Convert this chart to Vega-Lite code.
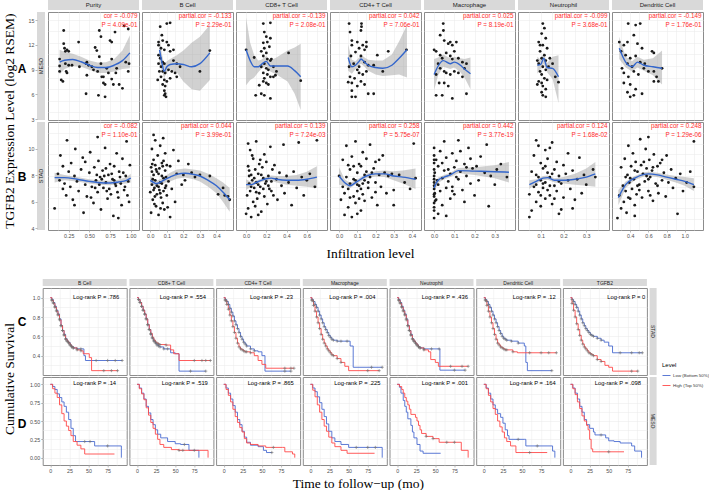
{
"$schema":"https://vega.github.io/schema/vega-lite/v6.json",
"padding":0,
"autosize":{"type":"pad"},
"background":"white",
"spacing":18,
"config":{
 "view":{"stroke":"#8c8c8c","strokeWidth":1},
 "axis":{"domain":false,"gridColor":"#ebebeb","gridWidth":0.55,"tickColor":"#8c8c8c","tickSize":2,"tickWidth":0.6,"tickCount":50,"labelFont":"Liberation Sans","labelFontSize":5.3,"labelColor":"#4d4d4d","labelPadding":1,"labelOverlap":false,"labelFlush":false,"titleFont":"Liberation Serif","titleFontSize":13.5,"titleFontWeight":"normal","titleColor":"#000000"},
 "text":{"font":"Liberation Sans","color":"#1a1a1a"},
 "circle":{"size":8,"color":"#1a1a1a","opacity":1},
 "line":{"strokeWidth":0.9},
 "style":{"ann":{"align":"right","color":"#ff2a2a","fontSize":6.3,"dx":-1.5},"lr":{"fontSize":5.8,"color":"#000000"},"strip":{"fontSize":6,"color":"#1a1a1a"}}
},
"datasets":{
"mP":[{"x":0.19,"y":13.6},{"x":0.14,"y":9.0},{"x":0.16,"y":7.2},{"x":0.14,"y":8.3},{"x":0.19,"y":11.9},{"x":0.2,"y":11.3},{"x":0.21,"y":10.9},{"x":0.23,"y":11.1},{"x":0.25,"y":10.9},{"x":0.22,"y":8.3},{"x":0.23,"y":8.1},{"x":0.18,"y":7.0},{"x":0.21,"y":9.3},{"x":0.25,"y":9.1},{"x":0.29,"y":9.1},{"x":0.37,"y":12.1},{"x":0.38,"y":8.9},{"x":0.46,"y":9.3},{"x":0.47,"y":7.8},{"x":0.46,"y":5.4},{"x":0.49,"y":9.1},{"x":0.53,"y":8.9},{"x":0.55,"y":8.5},{"x":0.57,"y":11.4},{"x":0.59,"y":11.0},{"x":0.6,"y":8.3},{"x":0.61,"y":5.2},{"x":0.62,"y":13.6},{"x":0.64,"y":12.8},{"x":0.62,"y":10.2},{"x":0.64,"y":9.3},{"x":0.65,"y":7.6},{"x":0.67,"y":6.8},{"x":0.69,"y":6.6},{"x":0.69,"y":5.0},{"x":0.71,"y":8.7},{"x":0.73,"y":8.1},{"x":0.75,"y":12.3},{"x":0.77,"y":12.1},{"x":0.77,"y":9.9},{"x":0.77,"y":7.3},{"x":0.79,"y":6.6},{"x":0.81,"y":13.4},{"x":0.82,"y":8.1},{"x":0.83,"y":8.7},{"x":0.86,"y":6.6},{"x":0.9,"y":6.1},{"x":0.92,"y":14.2},{"x":0.94,"y":9.5},{"x":0.97,"y":13.8},{"x":0.97,"y":8.3},{"x":0.98,"y":9.3},{"x":0.14,"y":9.9},{"x":0.67,"y":7.6},{"x":0.47,"y":9.5}],
"fmP":[{"x":0.14,"f":9.5,"lo":7.9,"hi":11.1},{"x":0.2,"f":9.75,"lo":8.6,"hi":10.8},{"x":0.3,"f":9.85,"lo":9.0,"hi":10.6},{"x":0.4,"f":9.55,"lo":8.9,"hi":10.2},{"x":0.5,"f":9.1,"lo":8.5,"hi":9.7},{"x":0.6,"f":8.8,"lo":8.1,"hi":9.45},{"x":0.7,"f":8.8,"lo":8.1,"hi":9.5},{"x":0.8,"f":9.1,"lo":8.3,"hi":9.9},{"x":0.9,"f":9.7,"lo":8.6,"hi":11.0},{"x":0.99,"f":10.7,"lo":8.7,"hi":13.0}],
"mB":[{"x":0.1,"y":14.5},{"x":0.12,"y":14.6},{"x":0.06,"y":14.1},{"x":0.07,"y":13.0},{"x":0.075,"y":12.3},{"x":0.05,"y":12.1},{"x":0.05,"y":11.7},{"x":0.065,"y":11.3},{"x":0.085,"y":11.1},{"x":0.1,"y":12.1},{"x":0.11,"y":11.7},{"x":0.12,"y":10.9},{"x":0.14,"y":11.1},{"x":0.05,"y":10.4},{"x":0.06,"y":10.0},{"x":0.075,"y":9.5},{"x":0.085,"y":9.3},{"x":0.065,"y":8.9},{"x":0.055,"y":8.3},{"x":0.075,"y":8.3},{"x":0.09,"y":8.1},{"x":0.11,"y":8.5},{"x":0.13,"y":8.3},{"x":0.15,"y":8.1},{"x":0.065,"y":7.6},{"x":0.085,"y":7.2},{"x":0.1,"y":7.0},{"x":0.12,"y":7.4},{"x":0.075,"y":6.6},{"x":0.09,"y":6.4},{"x":0.085,"y":5.8},{"x":0.09,"y":5.4},{"x":0.095,"y":5.0},{"x":0.085,"y":5.2},{"x":0.16,"y":9.3},{"x":0.18,"y":8.9},{"x":0.3,"y":8.3},{"x":0.36,"y":11.0},{"x":0.14,"y":9.7},{"x":0.16,"y":7.6},{"x":0.05,"y":9.3},{"x":0.045,"y":7.2}],
"fmB":[{"x":0.056,"f":11.1,"lo":9.3,"hi":12.9},{"x":0.07,"f":9.5,"lo":8.4,"hi":10.6},{"x":0.084,"f":8.3,"lo":7.4,"hi":9.2},{"x":0.1,"f":8.9,"lo":8.2,"hi":9.6},{"x":0.12,"f":9.2,"lo":8.5,"hi":9.9},{"x":0.16,"f":9.3,"lo":8.2,"hi":10.4},{"x":0.2,"f":9.2,"lo":7.0,"hi":11.0},{"x":0.25,"f":8.9,"lo":6.0,"hi":12.0},{"x":0.3,"f":9.3,"lo":5.8,"hi":12.8},{"x":0.36,"f":10.7,"lo":7.2,"hi":14.3}],
"m8":[{"x":0.0,"y":11.1},{"x":0.08,"y":10.1},{"x":0.095,"y":5.2},{"x":0.15,"y":5.4},{"x":0.18,"y":5.2},{"x":0.24,"y":4.8},{"x":0.42,"y":10.7},{"x":0.54,"y":7.1},{"x":0.13,"y":6.5},{"x":0.17,"y":14.5},{"x":0.24,"y":14.6},{"x":0.18,"y":13.4},{"x":0.2,"y":12.8},{"x":0.21,"y":12.1},{"x":0.17,"y":12.0},{"x":0.18,"y":11.3},{"x":0.23,"y":11.5},{"x":0.2,"y":10.7},{"x":0.17,"y":10.3},{"x":0.21,"y":9.9},{"x":0.24,"y":9.7},{"x":0.18,"y":9.3},{"x":0.15,"y":8.9},{"x":0.2,"y":8.7},{"x":0.22,"y":8.5},{"x":0.17,"y":8.1},{"x":0.21,"y":7.9},{"x":0.24,"y":7.6},{"x":0.18,"y":7.4},{"x":0.2,"y":6.8},{"x":0.22,"y":6.6},{"x":0.17,"y":7.0},{"x":0.27,"y":8.9},{"x":0.3,"y":8.3},{"x":0.27,"y":7.6},{"x":0.29,"y":7.8},{"x":0.25,"y":9.9},{"x":0.24,"y":12.6},{"x":0.15,"y":10.9}],
"fm8":[{"x":0.0,"f":11.1,"lo":6.5,"hi":15.3},{"x":0.04,"f":9.7,"lo":7.2,"hi":12.0},{"x":0.08,"f":8.9,"lo":7.5,"hi":10.4},{"x":0.12,"f":8.9,"lo":8.2,"hi":9.7},{"x":0.15,"f":9.2,"lo":8.6,"hi":9.8},{"x":0.2,"f":9.6,"lo":9.0,"hi":10.3},{"x":0.24,"f":9.0,"lo":8.3,"hi":9.7},{"x":0.3,"f":9.0,"lo":7.9,"hi":10.1},{"x":0.41,"f":9.0,"lo":7.0,"hi":11.0},{"x":0.48,"f":8.4,"lo":5.4,"hi":11.4},{"x":0.54,"f":7.6,"lo":3.3,"hi":11.9}],
"m4":[{"x":0.123,"y":14.5},{"x":0.12,"y":13.6},{"x":0.123,"y":14.1},{"x":0.1,"y":12.1},{"x":0.11,"y":11.3},{"x":0.13,"y":11.7},{"x":0.14,"y":11.1},{"x":0.15,"y":12.1},{"x":0.15,"y":11.5},{"x":0.12,"y":10.3},{"x":0.14,"y":9.5},{"x":0.16,"y":9.1},{"x":0.11,"y":8.9},{"x":0.11,"y":8.1},{"x":0.13,"y":7.9},{"x":0.15,"y":8.3},{"x":0.12,"y":7.0},{"x":0.1,"y":6.4},{"x":0.14,"y":6.6},{"x":0.16,"y":5.4},{"x":0.19,"y":5.4},{"x":0.09,"y":5.0},{"x":0.21,"y":10.4},{"x":0.24,"y":8.3},{"x":0.27,"y":10.9},{"x":0.19,"y":9.1},{"x":0.055,"y":14.5},{"x":0.06,"y":13.4},{"x":0.07,"y":12.3},{"x":0.07,"y":11.7},{"x":0.055,"y":8.9},{"x":0.06,"y":7.6},{"x":0.07,"y":6.8},{"x":0.05,"y":6.9},{"x":0.07,"y":5.0},{"x":0.07,"y":5.8},{"x":0.08,"y":9.3},{"x":0.065,"y":10.3},{"x":0.09,"y":10.8},{"x":0.1,"y":8.5},{"x":0.085,"y":7.4},{"x":0.37,"y":11.1}],
"fm4":[{"x":0.05,"f":10.1,"lo":8.4,"hi":11.8},{"x":0.07,"f":8.9,"lo":8.0,"hi":9.8},{"x":0.09,"f":9.1,"lo":8.6,"hi":9.6},{"x":0.11,"f":9.6,"lo":9.1,"hi":10.1},{"x":0.12,"f":9.9,"lo":9.3,"hi":10.5},{"x":0.14,"f":9.5,"lo":8.9,"hi":10.1},{"x":0.16,"f":9.1,"lo":8.4,"hi":9.8},{"x":0.2,"f":8.8,"lo":7.9,"hi":9.7},{"x":0.24,"f":8.7,"lo":7.7,"hi":9.7},{"x":0.29,"f":9.1,"lo":7.8,"hi":10.5},{"x":0.33,"f":10.0,"lo":7.9,"hi":12.2},{"x":0.373,"f":11.1,"lo":7.5,"hi":14.3}],
"mM":[{"x":0.045,"y":14.5},{"x":0.046,"y":13.6},{"x":0.03,"y":13.0},{"x":0.05,"y":12.3},{"x":0.07,"y":11.9},{"x":0.08,"y":12.1},{"x":0.09,"y":11.7},{"x":0.11,"y":12.1},{"x":0.0,"y":11.1},{"x":0.01,"y":10.9},{"x":0.03,"y":10.4},{"x":0.04,"y":10.0},{"x":0.06,"y":10.7},{"x":0.08,"y":10.3},{"x":0.09,"y":9.9},{"x":0.1,"y":10.9},{"x":0.12,"y":10.0},{"x":0.14,"y":9.5},{"x":0.02,"y":9.3},{"x":0.03,"y":8.7},{"x":0.05,"y":8.3},{"x":0.06,"y":8.1},{"x":0.08,"y":7.9},{"x":0.1,"y":8.3},{"x":0.12,"y":8.1},{"x":0.14,"y":7.6},{"x":0.01,"y":7.9},{"x":0.025,"y":6.8},{"x":0.05,"y":6.8},{"x":0.07,"y":6.4},{"x":0.01,"y":5.2},{"x":0.04,"y":5.2},{"x":0.09,"y":4.8},{"x":0.16,"y":5.4},{"x":0.16,"y":9.3},{"x":0.15,"y":8.7}],
"fmM":[{"x":0.0,"f":7.9,"lo":5.9,"hi":9.9},{"x":0.02,"f":9.0,"lo":7.8,"hi":10.1},{"x":0.045,"f":9.7,"lo":8.9,"hi":10.5},{"x":0.08,"f":9.3,"lo":8.6,"hi":10.0},{"x":0.1,"f":9.5,"lo":8.8,"hi":10.2},{"x":0.13,"f":9.1,"lo":8.2,"hi":10.0},{"x":0.15,"f":8.6,"lo":7.5,"hi":9.9},{"x":0.18,"f":8.0,"lo":6.0,"hi":10.1}],
"mN":[{"x":0.109,"y":14.5},{"x":0.116,"y":13.9},{"x":0.104,"y":13.2},{"x":0.122,"y":12.6},{"x":0.091,"y":12.1},{"x":0.109,"y":11.7},{"x":0.128,"y":11.3},{"x":0.097,"y":10.9},{"x":0.116,"y":10.4},{"x":0.104,"y":10.0},{"x":0.091,"y":9.3},{"x":0.109,"y":8.9},{"x":0.122,"y":8.5},{"x":0.097,"y":8.3},{"x":0.104,"y":7.9},{"x":0.116,"y":7.4},{"x":0.091,"y":7.0},{"x":0.128,"y":7.2},{"x":0.085,"y":6.6},{"x":0.109,"y":6.4},{"x":0.122,"y":6.0},{"x":0.104,"y":5.6},{"x":0.109,"y":5.2},{"x":0.122,"y":5.0},{"x":0.14,"y":10.0},{"x":0.152,"y":9.3},{"x":0.164,"y":7.6},{"x":0.178,"y":6.9},{"x":0.085,"y":9.7},{"x":0.134,"y":8.9},{"x":0.097,"y":11.7},{"x":0.122,"y":9.7},{"x":0.104,"y":6.8}],
"fmN":[{"x":0.085,"f":9.1,"lo":8.0,"hi":10.2},{"x":0.1,"f":9.2,"lo":8.6,"hi":9.8},{"x":0.113,"f":10.0,"lo":9.3,"hi":10.7},{"x":0.128,"f":8.8,"lo":8.2,"hi":9.4},{"x":0.152,"f":8.7,"lo":7.3,"hi":10.2},{"x":0.178,"f":7.6,"lo":4.2,"hi":10.4}],
"mD":[{"x":0.378,"y":14.5},{"x":0.46,"y":14.3},{"x":0.51,"y":14.5},{"x":0.28,"y":12.1},{"x":0.33,"y":11.7},{"x":0.37,"y":12.1},{"x":0.44,"y":13.0},{"x":0.48,"y":11.9},{"x":0.53,"y":11.3},{"x":0.64,"y":10.9},{"x":0.66,"y":10.7},{"x":0.3,"y":10.9},{"x":0.35,"y":10.4},{"x":0.4,"y":10.0},{"x":0.46,"y":10.3},{"x":0.51,"y":9.5},{"x":0.56,"y":9.3},{"x":0.37,"y":9.3},{"x":0.42,"y":8.9},{"x":0.31,"y":8.7},{"x":0.33,"y":8.1},{"x":0.38,"y":7.6},{"x":0.44,"y":8.3},{"x":0.49,"y":7.9},{"x":0.55,"y":8.7},{"x":0.6,"y":8.3},{"x":0.66,"y":8.3},{"x":0.69,"y":7.6},{"x":0.71,"y":7.0},{"x":0.33,"y":6.8},{"x":0.4,"y":6.6},{"x":0.46,"y":6.0},{"x":0.37,"y":5.6},{"x":0.44,"y":5.2},{"x":0.53,"y":5.4},{"x":0.4,"y":5.0},{"x":0.66,"y":7.0},{"x":0.75,"y":8.7}],
"fmD":[{"x":0.28,"f":11.3,"lo":9.9,"hi":12.8},{"x":0.35,"f":9.5,"lo":8.8,"hi":10.2},{"x":0.42,"f":8.9,"lo":8.3,"hi":9.6},{"x":0.48,"f":9.5,"lo":8.8,"hi":10.2},{"x":0.55,"f":9.1,"lo":8.4,"hi":9.8},{"x":0.65,"f":8.9,"lo":7.8,"hi":10.0},{"x":0.75,"f":8.7,"lo":6.6,"hi":11.0}],
"sP":[{"x":0.08,"y":5.0},{"x":0.12,"y":8.2},{"x":0.14,"y":7.6},{"x":0.15,"y":9.9},{"x":0.18,"y":8.9},{"x":0.2,"y":7.3},{"x":0.22,"y":6.2},{"x":0.23,"y":11.3},{"x":0.25,"y":8.4},{"x":0.27,"y":7.0},{"x":0.28,"y":9.2},{"x":0.3,"y":5.8},{"x":0.32,"y":8.0},{"x":0.33,"y":10.5},{"x":0.35,"y":7.5},{"x":0.37,"y":6.6},{"x":0.4,"y":8.6},{"x":0.42,"y":9.7},{"x":0.43,"y":4.6},{"x":0.45,"y":7.2},{"x":0.47,"y":6.1},{"x":0.5,"y":8.3},{"x":0.51,"y":10.2},{"x":0.53,"y":7.0},{"x":0.55,"y":5.5},{"x":0.56,"y":8.8},{"x":0.58,"y":7.6},{"x":0.6,"y":6.5},{"x":0.61,"y":9.4},{"x":0.63,"y":7.9},{"x":0.64,"y":4.9},{"x":0.66,"y":8.5},{"x":0.67,"y":6.9},{"x":0.69,"y":10.6},{"x":0.7,"y":7.4},{"x":0.72,"y":5.9},{"x":0.73,"y":8.1},{"x":0.75,"y":9.1},{"x":0.76,"y":6.3},{"x":0.78,"y":7.7},{"x":0.79,"y":4.3},{"x":0.8,"y":8.9},{"x":0.82,"y":7.1},{"x":0.83,"y":10.1},{"x":0.85,"y":6.0},{"x":0.86,"y":8.4},{"x":0.88,"y":7.3},{"x":0.89,"y":5.3},{"x":0.9,"y":9.6},{"x":0.92,"y":6.7},{"x":0.94,"y":8.0},{"x":0.95,"y":11.2},{"x":0.97,"y":7.5},{"x":0.98,"y":5.6},{"x":0.99,"y":9.0},{"x":0.6,"y":11.6},{"x":0.45,"y":9.3},{"x":0.18,"y":6.8},{"x":0.52,"y":6.0},{"x":0.7,"y":8.7},{"x":0.85,"y":4.1},{"x":0.32,"y":5.3},{"x":0.62,"y":7.2},{"x":0.68,"y":8.0},{"x":0.74,"y":6.8},{"x":0.8,"y":7.6},{"x":0.87,"y":7.9},{"x":0.93,"y":7.0},{"x":0.57,"y":6.9},{"x":0.65,"y":7.7},{"x":0.77,"y":8.2},{"x":0.84,"y":6.5},{"x":0.91,"y":8.3},{"x":0.96,"y":6.2},{"x":0.59,"y":8.1},{"x":0.71,"y":6.6},{"x":0.81,"y":7.3}],
"fsP":[{"x":0.08,"f":7.85,"lo":7.4,"hi":8.3},{"x":0.2,"f":7.85,"lo":7.6,"hi":8.1},{"x":0.35,"f":7.7,"lo":7.5,"hi":7.9},{"x":0.5,"f":7.5,"lo":7.3,"hi":7.7},{"x":0.6,"f":7.4,"lo":7.2,"hi":7.6},{"x":0.75,"f":7.35,"lo":7.15,"hi":7.55},{"x":0.85,"f":7.45,"lo":7.25,"hi":7.65},{"x":0.95,"f":7.6,"lo":7.3,"hi":7.9},{"x":1.0,"f":7.8,"lo":7.4,"hi":8.2}],
"sB":[{"x":0.0,"y":6.5},{"x":0.005,"y":8.8},{"x":0.01,"y":7.2},{"x":0.01,"y":10.5},{"x":0.015,"y":5.8},{"x":0.02,"y":8.1},{"x":0.02,"y":9.5},{"x":0.025,"y":6.9},{"x":0.03,"y":11.3},{"x":0.03,"y":7.6},{"x":0.035,"y":5.2},{"x":0.04,"y":8.4},{"x":0.04,"y":6.3},{"x":0.045,"y":9.9},{"x":0.05,"y":7.0},{"x":0.05,"y":4.4},{"x":0.055,"y":8.7},{"x":0.06,"y":7.4},{"x":0.06,"y":10.8},{"x":0.065,"y":6.0},{"x":0.07,"y":8.0},{"x":0.07,"y":9.2},{"x":0.075,"y":5.5},{"x":0.08,"y":7.8},{"x":0.08,"y":6.6},{"x":0.085,"y":4.9},{"x":0.09,"y":8.5},{"x":0.09,"y":10.1},{"x":0.095,"y":7.1},{"x":0.1,"y":6.2},{"x":0.1,"y":9.0},{"x":0.005,"y":4.6},{"x":0.012,"y":9.1},{"x":0.028,"y":6.1},{"x":0.062,"y":5.0},{"x":0.078,"y":11.5},{"x":0.11,"y":7.5},{"x":0.12,"y":8.9},{"x":0.13,"y":6.8},{"x":0.14,"y":10.4},{"x":0.15,"y":5.6},{"x":0.16,"y":8.2},{"x":0.17,"y":9.4},{"x":0.19,"y":7.2},{"x":0.2,"y":8.1},{"x":0.21,"y":7.6},{"x":0.23,"y":9.1},{"x":0.25,"y":8.3},{"x":0.27,"y":7.9},{"x":0.3,"y":8.1},{"x":0.36,"y":8.0},{"x":0.41,"y":6.3},{"x":0.44,"y":6.9},{"x":0.45,"y":6.2},{"x":0.47,"y":6.1},{"x":0.48,"y":5.8},{"x":0.12,"y":4.2},{"x":0.105,"y":5.1},{"x":0.02,"y":11.8},{"x":0.01,"y":8.4},{"x":0.02,"y":6.7},{"x":0.03,"y":9.0},{"x":0.04,"y":7.1},{"x":0.05,"y":8.2},{"x":0.06,"y":6.4},{"x":0.07,"y":7.3},{"x":0.08,"y":9.4},{"x":0.09,"y":6.9},{"x":0.015,"y":7.7},{"x":0.035,"y":8.6},{"x":0.055,"y":6.7},{"x":0.075,"y":8.9},{"x":0.095,"y":7.9},{"x":0.025,"y":5.4}],
"fsB":[{"x":0.0,"f":7.6,"lo":7.2,"hi":8.0},{"x":0.04,"f":7.3,"lo":7.1,"hi":7.55},{"x":0.08,"f":7.6,"lo":7.35,"hi":7.85},{"x":0.12,"f":7.9,"lo":7.5,"hi":8.3},{"x":0.16,"f":8.15,"lo":7.75,"hi":8.6},{"x":0.21,"f":8.25,"lo":7.85,"hi":8.7},{"x":0.26,"f":8.15,"lo":7.7,"hi":8.6},{"x":0.3,"f":8.0,"lo":7.5,"hi":8.5},{"x":0.35,"f":7.6,"lo":7.0,"hi":8.2},{"x":0.4,"f":7.1,"lo":6.4,"hi":7.8},{"x":0.44,"f":6.5,"lo":5.6,"hi":7.4},{"x":0.48,"f":5.8,"lo":4.7,"hi":6.9}],
"s8":[{"x":0.0,"y":4.5},{"x":0.01,"y":6.2},{"x":0.02,"y":8.9},{"x":0.02,"y":5.0},{"x":0.03,"y":7.3},{"x":0.04,"y":10.4},{"x":0.04,"y":6.6},{"x":0.05,"y":8.1},{"x":0.05,"y":4.2},{"x":0.06,"y":7.6},{"x":0.07,"y":9.6},{"x":0.07,"y":5.6},{"x":0.08,"y":6.9},{"x":0.09,"y":8.6},{"x":0.1,"y":7.4},{"x":0.1,"y":11.2},{"x":0.11,"y":5.9},{"x":0.12,"y":8.2},{"x":0.13,"y":6.4},{"x":0.13,"y":9.1},{"x":0.14,"y":7.0},{"x":0.15,"y":4.7},{"x":0.16,"y":8.8},{"x":0.17,"y":7.8},{"x":0.18,"y":10.0},{"x":0.18,"y":6.1},{"x":0.19,"y":7.3},{"x":0.2,"y":9.3},{"x":0.21,"y":5.4},{"x":0.22,"y":8.0},{"x":0.23,"y":6.8},{"x":0.24,"y":10.7},{"x":0.25,"y":7.5},{"x":0.26,"y":8.6},{"x":0.27,"y":6.2},{"x":0.28,"y":9.0},{"x":0.3,"y":7.7},{"x":0.31,"y":5.8},{"x":0.33,"y":8.3},{"x":0.35,"y":7.1},{"x":0.37,"y":10.9},{"x":0.38,"y":6.4},{"x":0.4,"y":8.0},{"x":0.42,"y":7.4},{"x":0.45,"y":5.3},{"x":0.47,"y":8.4},{"x":0.5,"y":6.9},{"x":0.52,"y":11.1},{"x":0.55,"y":7.9},{"x":0.57,"y":6.2},{"x":0.6,"y":7.6},{"x":0.63,"y":8.2},{"x":0.68,"y":7.0},{"x":0.7,"y":11.3},{"x":0.02,"y":11.0},{"x":0.12,"y":4.4},{"x":0.06,"y":9.9},{"x":0.03,"y":8.0},{"x":0.05,"y":7.0},{"x":0.08,"y":7.8},{"x":0.1,"y":6.5},{"x":0.12,"y":7.2},{"x":0.15,"y":8.1},{"x":0.17,"y":6.8},{"x":0.2,"y":7.5},{"x":0.22,"y":7.1},{"x":0.25,"y":6.6},{"x":0.14,"y":9.5},{"x":0.03,"y":8.5},{"x":0.09,"y":5.2}],
"fs8":[{"x":0.0,"f":7.2,"lo":6.7,"hi":7.7},{"x":0.05,"f":7.2,"lo":7.0,"hi":7.45},{"x":0.1,"f":7.4,"lo":7.25,"hi":7.6},{"x":0.15,"f":7.6,"lo":7.45,"hi":7.75},{"x":0.2,"f":7.75,"lo":7.55,"hi":7.95},{"x":0.25,"f":7.8,"lo":7.55,"hi":8.05},{"x":0.3,"f":7.7,"lo":7.4,"hi":8.0},{"x":0.4,"f":7.6,"lo":7.2,"hi":8.0},{"x":0.5,"f":7.6,"lo":7.1,"hi":8.1},{"x":0.6,"f":7.7,"lo":7.0,"hi":8.4},{"x":0.7,"f":7.9,"lo":6.9,"hi":8.9}],
"s4":[{"x":0.0,"y":8.0},{"x":0.01,"y":5.8},{"x":0.02,"y":9.5},{"x":0.03,"y":6.4},{"x":0.03,"y":4.4},{"x":0.04,"y":7.9},{"x":0.04,"y":10.8},{"x":0.05,"y":6.8},{"x":0.05,"y":5.1},{"x":0.06,"y":8.6},{"x":0.06,"y":7.3},{"x":0.07,"y":4.2},{"x":0.07,"y":9.8},{"x":0.08,"y":6.1},{"x":0.08,"y":7.7},{"x":0.09,"y":11.2},{"x":0.09,"y":5.5},{"x":0.1,"y":8.3},{"x":0.1,"y":6.6},{"x":0.11,"y":9.1},{"x":0.11,"y":7.1},{"x":0.12,"y":4.8},{"x":0.12,"y":8.9},{"x":0.13,"y":6.3},{"x":0.13,"y":10.2},{"x":0.14,"y":7.6},{"x":0.14,"y":5.7},{"x":0.15,"y":8.4},{"x":0.15,"y":9.6},{"x":0.16,"y":6.9},{"x":0.17,"y":7.9},{"x":0.17,"y":10.9},{"x":0.18,"y":6.0},{"x":0.19,"y":8.7},{"x":0.2,"y":7.4},{"x":0.2,"y":9.3},{"x":0.21,"y":5.3},{"x":0.22,"y":8.1},{"x":0.23,"y":7.0},{"x":0.24,"y":9.9},{"x":0.25,"y":8.3},{"x":0.26,"y":6.4},{"x":0.27,"y":8.0},{"x":0.29,"y":8.2},{"x":0.3,"y":6.7},{"x":0.3,"y":5.3},{"x":0.33,"y":8.1},{"x":0.36,"y":7.4},{"x":0.41,"y":11.0},{"x":0.42,"y":7.8},{"x":0.39,"y":6.8},{"x":0.02,"y":7.0},{"x":0.05,"y":9.0},{"x":0.1,"y":4.5},{"x":0.06,"y":6.0},{"x":0.08,"y":8.9},{"x":0.1,"y":7.2},{"x":0.12,"y":6.8},{"x":0.14,"y":8.1},{"x":0.16,"y":7.4},{"x":0.18,"y":8.3},{"x":0.2,"y":6.5},{"x":0.22,"y":9.5},{"x":0.13,"y":7.3},{"x":0.11,"y":5.9},{"x":0.09,"y":7.6}],
"fs4":[{"x":0.0,"f":8.0,"lo":7.2,"hi":8.8},{"x":0.03,"f":7.4,"lo":7.1,"hi":7.7},{"x":0.06,"f":7.1,"lo":6.9,"hi":7.35},{"x":0.1,"f":7.5,"lo":7.3,"hi":7.7},{"x":0.15,"f":8.0,"lo":7.8,"hi":8.2},{"x":0.2,"f":8.2,"lo":7.95,"hi":8.45},{"x":0.25,"f":8.2,"lo":7.9,"hi":8.5},{"x":0.3,"f":8.0,"lo":7.6,"hi":8.45},{"x":0.35,"f":7.9,"lo":7.3,"hi":8.5},{"x":0.42,"f":7.7,"lo":6.8,"hi":8.7}],
"sM":[{"x":0.0,"y":4.1},{"x":0.0,"y":4.8},{"x":0.0,"y":5.5},{"x":0.0,"y":6.1},{"x":0.0,"y":6.8},{"x":0.0,"y":7.4},{"x":0.0,"y":8.0},{"x":0.0,"y":8.6},{"x":0.0,"y":9.2},{"x":0.0,"y":9.9},{"x":0.0,"y":10.6},{"x":0.0,"y":5.1},{"x":0.0,"y":7.1},{"x":0.003,"y":6.4},{"x":0.003,"y":8.3},{"x":0.01,"y":5.8},{"x":0.01,"y":9.5},{"x":0.015,"y":7.6},{"x":0.02,"y":4.5},{"x":0.02,"y":8.9},{"x":0.03,"y":6.6},{"x":0.03,"y":10.3},{"x":0.04,"y":7.8},{"x":0.04,"y":5.3},{"x":0.05,"y":8.5},{"x":0.05,"y":11.2},{"x":0.06,"y":6.9},{"x":0.06,"y":9.7},{"x":0.07,"y":7.5},{"x":0.08,"y":8.2},{"x":0.08,"y":5.9},{"x":0.09,"y":10.1},{"x":0.09,"y":7.0},{"x":0.1,"y":8.8},{"x":0.1,"y":6.3},{"x":0.11,"y":9.4},{"x":0.12,"y":7.7},{"x":0.12,"y":11.3},{"x":0.13,"y":8.4},{"x":0.14,"y":6.7},{"x":0.15,"y":9.1},{"x":0.15,"y":5.6},{"x":0.16,"y":8.0},{"x":0.17,"y":10.6},{"x":0.18,"y":7.3},{"x":0.19,"y":8.7},{"x":0.2,"y":6.2},{"x":0.21,"y":8.9},{"x":0.22,"y":7.6},{"x":0.23,"y":9.8},{"x":0.25,"y":8.3},{"x":0.26,"y":10.9},{"x":0.28,"y":8.0},{"x":0.3,"y":7.2},{"x":0.31,"y":8.6},{"x":0.33,"y":9.1},{"x":0.36,"y":7.9},{"x":0.27,"y":5.2},{"x":0.06,"y":4.3},{"x":0.0,"y":6.3},{"x":0.0,"y":7.7},{"x":0.0,"y":9.5},{"x":0.005,"y":5.7},{"x":0.02,"y":7.2},{"x":0.04,"y":9.2},{"x":0.07,"y":8.6},{"x":0.09,"y":6.6},{"x":0.11,"y":7.9},{"x":0.13,"y":10.3},{"x":0.16,"y":8.8},{"x":0.18,"y":9.6}],
"fsM":[{"x":0.0,"f":6.9,"lo":6.5,"hi":7.3},{"x":0.02,"f":7.6,"lo":7.35,"hi":7.85},{"x":0.05,"f":7.9,"lo":7.7,"hi":8.1},{"x":0.08,"f":8.1,"lo":7.9,"hi":8.3},{"x":0.12,"f":8.5,"lo":8.25,"hi":8.75},{"x":0.2,"f":8.45,"lo":8.1,"hi":8.8},{"x":0.3,"f":8.4,"lo":7.8,"hi":9.0},{"x":0.37,"f":8.35,"lo":7.4,"hi":9.3}],
"sN":[{"x":0.05,"y":4.2},{"x":0.05,"y":6.3},{"x":0.06,"y":8.4},{"x":0.06,"y":4.8},{"x":0.07,"y":9.9},{"x":0.07,"y":7.0},{"x":0.08,"y":5.6},{"x":0.08,"y":8.1},{"x":0.09,"y":10.8},{"x":0.09,"y":6.5},{"x":0.1,"y":7.6},{"x":0.1,"y":9.2},{"x":0.1,"y":5.2},{"x":0.11,"y":8.7},{"x":0.11,"y":6.9},{"x":0.12,"y":10.4},{"x":0.12,"y":7.4},{"x":0.12,"y":5.9},{"x":0.13,"y":8.3},{"x":0.13,"y":9.6},{"x":0.14,"y":6.2},{"x":0.14,"y":7.9},{"x":0.15,"y":11.1},{"x":0.15,"y":5.4},{"x":0.16,"y":8.6},{"x":0.16,"y":7.1},{"x":0.17,"y":9.3},{"x":0.17,"y":6.6},{"x":0.18,"y":8.0},{"x":0.18,"y":4.5},{"x":0.19,"y":7.3},{"x":0.2,"y":9.0},{"x":0.2,"y":6.0},{"x":0.21,"y":8.2},{"x":0.22,"y":7.6},{"x":0.22,"y":10.1},{"x":0.23,"y":6.8},{"x":0.24,"y":8.5},{"x":0.25,"y":5.8},{"x":0.26,"y":7.7},{"x":0.27,"y":9.7},{"x":0.28,"y":6.4},{"x":0.29,"y":8.1},{"x":0.3,"y":7.2},{"x":0.33,"y":8.6},{"x":0.34,"y":7.9},{"x":0.19,"y":4.9},{"x":0.08,"y":11.3},{"x":0.14,"y":10.6},{"x":0.24,"y":5.0},{"x":0.09,"y":7.9},{"x":0.11,"y":7.3},{"x":0.13,"y":6.7},{"x":0.15,"y":8.2},{"x":0.1,"y":6.2},{"x":0.12,"y":8.9},{"x":0.14,"y":7.1},{"x":0.16,"y":5.9},{"x":0.08,"y":7.2},{"x":0.18,"y":7.5}],
"fsN":[{"x":0.05,"f":7.2,"lo":6.8,"hi":7.6},{"x":0.08,"f":7.5,"lo":7.3,"hi":7.7},{"x":0.11,"f":7.8,"lo":7.6,"hi":8.0},{"x":0.13,"f":7.85,"lo":7.65,"hi":8.05},{"x":0.16,"f":7.6,"lo":7.4,"hi":7.8},{"x":0.2,"f":7.6,"lo":7.3,"hi":7.9},{"x":0.25,"f":7.7,"lo":7.2,"hi":8.2},{"x":0.3,"f":7.9,"lo":7.1,"hi":8.7},{"x":0.34,"f":8.2,"lo":7.0,"hi":9.3}],
"sD":[{"x":0.26,"y":4.1},{"x":0.28,"y":6.2},{"x":0.3,"y":5.0},{"x":0.3,"y":8.8},{"x":0.32,"y":7.1},{"x":0.33,"y":5.6},{"x":0.34,"y":9.6},{"x":0.35,"y":6.6},{"x":0.36,"y":4.6},{"x":0.37,"y":8.1},{"x":0.38,"y":10.8},{"x":0.39,"y":7.4},{"x":0.4,"y":5.9},{"x":0.41,"y":8.9},{"x":0.42,"y":6.8},{"x":0.43,"y":10.1},{"x":0.44,"y":7.7},{"x":0.45,"y":5.3},{"x":0.46,"y":9.3},{"x":0.47,"y":6.3},{"x":0.48,"y":8.4},{"x":0.5,"y":7.2},{"x":0.51,"y":11.4},{"x":0.52,"y":9.0},{"x":0.53,"y":6.0},{"x":0.54,"y":8.2},{"x":0.56,"y":7.5},{"x":0.57,"y":10.5},{"x":0.58,"y":8.7},{"x":0.6,"y":6.6},{"x":0.61,"y":9.5},{"x":0.62,"y":7.9},{"x":0.64,"y":8.5},{"x":0.65,"y":5.7},{"x":0.66,"y":10.0},{"x":0.68,"y":7.3},{"x":0.7,"y":8.9},{"x":0.71,"y":6.4},{"x":0.73,"y":9.2},{"x":0.75,"y":7.6},{"x":0.77,"y":8.3},{"x":0.79,"y":6.1},{"x":0.8,"y":9.9},{"x":0.82,"y":7.4},{"x":0.85,"y":8.6},{"x":0.87,"y":6.9},{"x":0.9,"y":7.8},{"x":0.92,"y":4.5},{"x":0.95,"y":8.2},{"x":0.98,"y":6.6},{"x":1.02,"y":7.4},{"x":1.06,"y":8.4},{"x":1.1,"y":7.0},{"x":1.1,"y":11.2},{"x":0.6,"y":11.6},{"x":0.45,"y":4.3},{"x":0.38,"y":6.0},{"x":0.4,"y":7.8},{"x":0.45,"y":8.5},{"x":0.5,"y":6.7},{"x":0.55,"y":9.3},{"x":0.6,"y":7.7},{"x":0.65,"y":8.8},{"x":0.7,"y":7.1},{"x":0.48,"y":7.1},{"x":0.58,"y":8.0},{"x":0.62,"y":6.2},{"x":0.35,"y":7.9},{"x":0.75,"y":9.5}],
"fsD":[{"x":0.27,"f":6.0,"lo":5.3,"hi":6.7},{"x":0.35,"f":7.2,"lo":6.9,"hi":7.5},{"x":0.45,"f":7.8,"lo":7.6,"hi":8.0},{"x":0.55,"f":8.15,"lo":7.95,"hi":8.35},{"x":0.6,"f":8.2,"lo":8.0,"hi":8.4},{"x":0.7,"f":8.1,"lo":7.9,"hi":8.3},{"x":0.8,"f":7.9,"lo":7.65,"hi":8.15},{"x":0.9,"f":7.7,"lo":7.4,"hi":8.0},{"x":1.0,"f":7.5,"lo":7.1,"hi":7.9},{"x":1.1,"f":7.2,"lo":6.6,"hi":7.8}],
"kCB":[{"g":"Low","t":0,"s":1},{"g":"Low","t":2,"s":0.98,"c":1},{"g":"Low","t":4,"s":0.95,"c":1},{"g":"Low","t":6,"s":0.91,"c":1},{"g":"Low","t":8,"s":0.87,"c":1},{"g":"Low","t":10,"s":0.83,"c":1},{"g":"Low","t":12,"s":0.78,"c":1},{"g":"Low","t":14,"s":0.71,"c":1},{"g":"Low","t":16,"s":0.66,"c":1},{"g":"Low","t":18,"s":0.62,"c":1},{"g":"Low","t":20,"s":0.575,"c":1},{"g":"Low","t":22,"s":0.55,"c":1},{"g":"Low","t":24,"s":0.535,"c":1},{"g":"Low","t":26,"s":0.51,"c":1},{"g":"Low","t":28,"s":0.495,"c":1},{"g":"Low","t":30,"s":0.48,"c":1},{"g":"Low","t":35,"s":0.47,"c":1},{"g":"Low","t":40,"s":0.47,"c":1},{"g":"Low","t":44,"s":0.4},{"g":"Low","t":46,"s":0.35},{"g":"Low","t":60,"s":0.35,"c":1},{"g":"Low","t":75,"s":0.35,"c":1},{"g":"Low","t":85,"s":0.35,"c":1},{"g":"Low","t":94,"s":0.35,"c":1},
{"g":"High","t":0,"s":1},{"g":"High","t":2,"s":0.97,"c":1},{"g":"High","t":4,"s":0.94,"c":1},{"g":"High","t":6,"s":0.9,"c":1},{"g":"High","t":8,"s":0.86,"c":1},{"g":"High","t":10,"s":0.82,"c":1},{"g":"High","t":12,"s":0.77,"c":1},{"g":"High","t":14,"s":0.71,"c":1},{"g":"High","t":16,"s":0.66,"c":1},{"g":"High","t":18,"s":0.61,"c":1},{"g":"High","t":20,"s":0.57,"c":1},{"g":"High","t":22,"s":0.55,"c":1},{"g":"High","t":24,"s":0.53,"c":1},{"g":"High","t":26,"s":0.51,"c":1},{"g":"High","t":28,"s":0.49,"c":1},{"g":"High","t":30,"s":0.48,"c":1},{"g":"High","t":35,"s":0.46,"c":1},{"g":"High","t":40,"s":0.45,"c":1},{"g":"High","t":43,"s":0.42},{"g":"High","t":51,"s":0.38},{"g":"High","t":54,"s":0.245},{"g":"High","t":70,"s":0.245,"c":1},{"g":"High","t":80,"s":0.245,"c":1},{"g":"High","t":88,"s":0.245,"c":1}],
"kC8":[{"g":"Low","t":0,"s":1},{"g":"Low","t":2,"s":0.98,"c":1},{"g":"Low","t":4,"s":0.95,"c":1},{"g":"Low","t":6,"s":0.91,"c":1},{"g":"Low","t":8,"s":0.87,"c":1},{"g":"Low","t":10,"s":0.83,"c":1},{"g":"Low","t":12,"s":0.78,"c":1},{"g":"Low","t":14,"s":0.72,"c":1},{"g":"Low","t":16,"s":0.67,"c":1},{"g":"Low","t":18,"s":0.62,"c":1},{"g":"Low","t":20,"s":0.58,"c":1},{"g":"Low","t":22,"s":0.55,"c":1},{"g":"Low","t":24,"s":0.53,"c":1},{"g":"Low","t":26,"s":0.51,"c":1},{"g":"Low","t":28,"s":0.5,"c":1},{"g":"Low","t":30,"s":0.49,"c":1},{"g":"Low","t":35,"s":0.47,"c":1},{"g":"Low","t":40,"s":0.47,"c":1},{"g":"Low","t":44,"s":0.43},{"g":"Low","t":50,"s":0.42},{"g":"Low","t":55,"s":0.24},{"g":"Low","t":70,"s":0.24,"c":1},{"g":"Low","t":90,"s":0.24,"c":1},
{"g":"High","t":0,"s":1},{"g":"High","t":2,"s":0.98,"c":1},{"g":"High","t":4,"s":0.95,"c":1},{"g":"High","t":6,"s":0.91,"c":1},{"g":"High","t":8,"s":0.87,"c":1},{"g":"High","t":10,"s":0.83,"c":1},{"g":"High","t":12,"s":0.78,"c":1},{"g":"High","t":14,"s":0.72,"c":1},{"g":"High","t":16,"s":0.67,"c":1},{"g":"High","t":18,"s":0.63,"c":1},{"g":"High","t":20,"s":0.59,"c":1},{"g":"High","t":22,"s":0.56,"c":1},{"g":"High","t":24,"s":0.54,"c":1},{"g":"High","t":26,"s":0.53,"c":1},{"g":"High","t":28,"s":0.52,"c":1},{"g":"High","t":30,"s":0.515,"c":1},{"g":"High","t":38,"s":0.51,"c":1},{"g":"High","t":44,"s":0.46},{"g":"High","t":48,"s":0.42},{"g":"High","t":55,"s":0.35},{"g":"High","t":75,"s":0.35,"c":1},{"g":"High","t":85,"s":0.35,"c":1},{"g":"High","t":90,"s":0.35,"c":1},{"g":"High","t":96,"s":0.35,"c":1}],
"kC4":[{"g":"Low","t":0,"s":1},{"g":"Low","t":2,"s":0.98,"c":1},{"g":"Low","t":4,"s":0.96,"c":1},{"g":"Low","t":6,"s":0.93,"c":1},{"g":"Low","t":8,"s":0.89,"c":1},{"g":"Low","t":10,"s":0.85,"c":1},{"g":"Low","t":12,"s":0.81,"c":1},{"g":"Low","t":14,"s":0.76,"c":1},{"g":"Low","t":16,"s":0.72,"c":1},{"g":"Low","t":18,"s":0.68,"c":1},{"g":"Low","t":20,"s":0.64,"c":1},{"g":"Low","t":22,"s":0.6,"c":1},{"g":"Low","t":24,"s":0.57,"c":1},{"g":"Low","t":26,"s":0.54,"c":1},{"g":"Low","t":28,"s":0.52,"c":1},{"g":"Low","t":30,"s":0.5,"c":1},{"g":"Low","t":35,"s":0.47,"c":1},{"g":"Low","t":40,"s":0.45,"c":1},{"g":"Low","t":45,"s":0.44},{"g":"Low","t":50,"s":0.4},{"g":"Low","t":54,"s":0.24},{"g":"Low","t":80,"s":0.24,"c":1},{"g":"Low","t":88,"s":0.24,"c":1},
{"g":"High","t":0,"s":1},{"g":"High","t":2,"s":0.97,"c":1},{"g":"High","t":4,"s":0.93,"c":1},{"g":"High","t":6,"s":0.88,"c":1},{"g":"High","t":8,"s":0.82,"c":1},{"g":"High","t":10,"s":0.76,"c":1},{"g":"High","t":12,"s":0.7,"c":1},{"g":"High","t":14,"s":0.64,"c":1},{"g":"High","t":16,"s":0.58,"c":1},{"g":"High","t":18,"s":0.53,"c":1},{"g":"High","t":20,"s":0.49,"c":1},{"g":"High","t":22,"s":0.47,"c":1},{"g":"High","t":24,"s":0.46,"c":1},{"g":"High","t":26,"s":0.45,"c":1},{"g":"High","t":28,"s":0.44,"c":1},{"g":"High","t":30,"s":0.44,"c":1},{"g":"High","t":35,"s":0.43,"c":1},{"g":"High","t":40,"s":0.4},{"g":"High","t":45,"s":0.35},{"g":"High","t":50,"s":0.31},{"g":"High","t":55,"s":0.27},{"g":"High","t":80,"s":0.27,"c":1},{"g":"High","t":88,"s":0.27,"c":1},{"g":"High","t":92,"s":0.27,"c":1}],
"kCM":[{"g":"Low","t":0,"s":1},{"g":"Low","t":2,"s":0.98,"c":1},{"g":"Low","t":4,"s":0.96,"c":1},{"g":"Low","t":6,"s":0.93,"c":1},{"g":"Low","t":8,"s":0.9,"c":1},{"g":"Low","t":10,"s":0.86,"c":1},{"g":"Low","t":12,"s":0.82,"c":1},{"g":"Low","t":14,"s":0.78,"c":1},{"g":"Low","t":16,"s":0.74,"c":1},{"g":"Low","t":18,"s":0.7,"c":1},{"g":"Low","t":20,"s":0.67,"c":1},{"g":"Low","t":22,"s":0.64,"c":1},{"g":"Low","t":24,"s":0.61,"c":1},{"g":"Low","t":26,"s":0.59,"c":1},{"g":"Low","t":28,"s":0.57,"c":1},{"g":"Low","t":30,"s":0.56,"c":1},{"g":"Low","t":35,"s":0.55,"c":1},{"g":"Low","t":40,"s":0.55,"c":1},{"g":"Low","t":48,"s":0.55,"c":1},{"g":"Low","t":52,"s":0.5},{"g":"Low","t":56,"s":0.28},{"g":"Low","t":80,"s":0.28,"c":1},{"g":"Low","t":94,"s":0.28,"c":1},
{"g":"High","t":0,"s":1},{"g":"High","t":2,"s":0.97,"c":1},{"g":"High","t":4,"s":0.92,"c":1},{"g":"High","t":6,"s":0.86,"c":1},{"g":"High","t":8,"s":0.8,"c":1},{"g":"High","t":10,"s":0.74,"c":1},{"g":"High","t":12,"s":0.68,"c":1},{"g":"High","t":14,"s":0.62,"c":1},{"g":"High","t":16,"s":0.57,"c":1},{"g":"High","t":18,"s":0.53,"c":1},{"g":"High","t":20,"s":0.5,"c":1},{"g":"High","t":22,"s":0.47,"c":1},{"g":"High","t":24,"s":0.45,"c":1},{"g":"High","t":26,"s":0.43,"c":1},{"g":"High","t":28,"s":0.41,"c":1},{"g":"High","t":30,"s":0.4,"c":1},{"g":"High","t":35,"s":0.37,"c":1},{"g":"High","t":40,"s":0.33,"c":1},{"g":"High","t":45,"s":0.29},{"g":"High","t":50,"s":0.245},{"g":"High","t":75,"s":0.245,"c":1},{"g":"High","t":90,"s":0.245,"c":1}],
"kCN":[{"g":"Low","t":0,"s":1},{"g":"Low","t":2,"s":0.98,"c":1},{"g":"Low","t":4,"s":0.95,"c":1},{"g":"Low","t":6,"s":0.91,"c":1},{"g":"Low","t":8,"s":0.87,"c":1},{"g":"Low","t":10,"s":0.83,"c":1},{"g":"Low","t":12,"s":0.78,"c":1},{"g":"Low","t":14,"s":0.71,"c":1},{"g":"Low","t":16,"s":0.66,"c":1},{"g":"Low","t":18,"s":0.62,"c":1},{"g":"Low","t":20,"s":0.575,"c":1},{"g":"Low","t":22,"s":0.55,"c":1},{"g":"Low","t":24,"s":0.53,"c":1},{"g":"Low","t":26,"s":0.51,"c":1},{"g":"Low","t":28,"s":0.495,"c":1},{"g":"Low","t":30,"s":0.48,"c":1},{"g":"Low","t":35,"s":0.47,"c":1},{"g":"Low","t":45,"s":0.47,"c":1},{"g":"Low","t":55,"s":0.47,"c":1},{"g":"Low","t":56,"s":0.25},{"g":"Low","t":75,"s":0.25,"c":1},{"g":"Low","t":89,"s":0.25,"c":1},
{"g":"High","t":0,"s":1},{"g":"High","t":2,"s":0.97,"c":1},{"g":"High","t":4,"s":0.94,"c":1},{"g":"High","t":6,"s":0.9,"c":1},{"g":"High","t":8,"s":0.86,"c":1},{"g":"High","t":10,"s":0.82,"c":1},{"g":"High","t":12,"s":0.77,"c":1},{"g":"High","t":14,"s":0.71,"c":1},{"g":"High","t":16,"s":0.66,"c":1},{"g":"High","t":18,"s":0.61,"c":1},{"g":"High","t":20,"s":0.57,"c":1},{"g":"High","t":22,"s":0.55,"c":1},{"g":"High","t":24,"s":0.53,"c":1},{"g":"High","t":26,"s":0.51,"c":1},{"g":"High","t":28,"s":0.49,"c":1},{"g":"High","t":30,"s":0.48,"c":1},{"g":"High","t":35,"s":0.46,"c":1},{"g":"High","t":41,"s":0.44},{"g":"High","t":44,"s":0.36},{"g":"High","t":50,"s":0.33},{"g":"High","t":54,"s":0.29},{"g":"High","t":70,"s":0.29,"c":1},{"g":"High","t":85,"s":0.29,"c":1},{"g":"High","t":93,"s":0.29,"c":1}],
"kCD":[{"g":"Low","t":0,"s":1},{"g":"Low","t":2,"s":0.98,"c":1},{"g":"Low","t":4,"s":0.96,"c":1},{"g":"Low","t":6,"s":0.93,"c":1},{"g":"Low","t":8,"s":0.9,"c":1},{"g":"Low","t":10,"s":0.86,"c":1},{"g":"Low","t":12,"s":0.82,"c":1},{"g":"Low","t":14,"s":0.78,"c":1},{"g":"Low","t":16,"s":0.74,"c":1},{"g":"Low","t":18,"s":0.7,"c":1},{"g":"Low","t":20,"s":0.66,"c":1},{"g":"Low","t":22,"s":0.63,"c":1},{"g":"Low","t":24,"s":0.6,"c":1},{"g":"Low","t":26,"s":0.58,"c":1},{"g":"Low","t":28,"s":0.57,"c":1},{"g":"Low","t":30,"s":0.56,"c":1},{"g":"Low","t":36,"s":0.55,"c":1},{"g":"Low","t":45,"s":0.53,"c":1},{"g":"Low","t":53,"s":0.5},{"g":"Low","t":55,"s":0.33},{"g":"Low","t":57,"s":0.245},{"g":"Low","t":89,"s":0.245,"c":1},
{"g":"High","t":0,"s":1},{"g":"High","t":2,"s":0.97,"c":1},{"g":"High","t":4,"s":0.92,"c":1},{"g":"High","t":6,"s":0.86,"c":1},{"g":"High","t":8,"s":0.8,"c":1},{"g":"High","t":10,"s":0.74,"c":1},{"g":"High","t":12,"s":0.68,"c":1},{"g":"High","t":14,"s":0.62,"c":1},{"g":"High","t":16,"s":0.57,"c":1},{"g":"High","t":18,"s":0.53,"c":1},{"g":"High","t":20,"s":0.51,"c":1},{"g":"High","t":22,"s":0.49,"c":1},{"g":"High","t":24,"s":0.48,"c":1},{"g":"High","t":26,"s":0.47,"c":1},{"g":"High","t":28,"s":0.46,"c":1},{"g":"High","t":30,"s":0.46,"c":1},{"g":"High","t":38,"s":0.44,"c":1},{"g":"High","t":44,"s":0.43},{"g":"High","t":60,"s":0.43,"c":1},{"g":"High","t":75,"s":0.43,"c":1},{"g":"High","t":85,"s":0.43,"c":1},{"g":"High","t":95,"s":0.43,"c":1}],
"kCT":[{"g":"Low","t":0,"s":1},{"g":"Low","t":2,"s":0.98,"c":1},{"g":"Low","t":4,"s":0.96,"c":1},{"g":"Low","t":6,"s":0.93,"c":1},{"g":"Low","t":8,"s":0.9,"c":1},{"g":"Low","t":10,"s":0.86,"c":1},{"g":"Low","t":12,"s":0.82,"c":1},{"g":"Low","t":14,"s":0.78,"c":1},{"g":"Low","t":16,"s":0.74,"c":1},{"g":"Low","t":18,"s":0.71,"c":1},{"g":"Low","t":20,"s":0.68,"c":1},{"g":"Low","t":22,"s":0.66,"c":1},{"g":"Low","t":24,"s":0.64,"c":1},{"g":"Low","t":26,"s":0.62,"c":1},{"g":"Low","t":28,"s":0.61,"c":1},{"g":"Low","t":30,"s":0.6,"c":1},{"g":"Low","t":35,"s":0.58,"c":1},{"g":"Low","t":40,"s":0.56,"c":1},{"g":"Low","t":44,"s":0.54},{"g":"Low","t":50,"s":0.5},{"g":"Low","t":55,"s":0.43},{"g":"Low","t":65,"s":0.43,"c":1},{"g":"Low","t":80,"s":0.43,"c":1},{"g":"Low","t":90,"s":0.43,"c":1},{"g":"Low","t":94,"s":0.43,"c":1},
{"g":"High","t":0,"s":1},{"g":"High","t":2,"s":0.94,"c":1},{"g":"High","t":4,"s":0.87,"c":1},{"g":"High","t":6,"s":0.8,"c":1},{"g":"High","t":8,"s":0.73,"c":1},{"g":"High","t":10,"s":0.67,"c":1},{"g":"High","t":12,"s":0.61,"c":1},{"g":"High","t":14,"s":0.56,"c":1},{"g":"High","t":16,"s":0.52,"c":1},{"g":"High","t":18,"s":0.49,"c":1},{"g":"High","t":20,"s":0.47,"c":1},{"g":"High","t":22,"s":0.45,"c":1},{"g":"High","t":24,"s":0.43,"c":1},{"g":"High","t":26,"s":0.42,"c":1},{"g":"High","t":28,"s":0.41,"c":1},{"g":"High","t":30,"s":0.4,"c":1},{"g":"High","t":35,"s":0.36,"c":1},{"g":"High","t":40,"s":0.34,"c":1},{"g":"High","t":45,"s":0.3},{"g":"High","t":50,"s":0.28},{"g":"High","t":55,"s":0.24},{"g":"High","t":80,"s":0.24,"c":1},{"g":"High","t":88,"s":0.24,"c":1}],
"kDB":[{"g":"Low","t":0,"s":1},{"g":"Low","t":3,"s":0.97},{"g":"Low","t":6,"s":0.93},{"g":"Low","t":9,"s":0.87},{"g":"Low","t":12,"s":0.82},{"g":"Low","t":15,"s":0.76},{"g":"Low","t":18,"s":0.7},{"g":"Low","t":21,"s":0.62},{"g":"Low","t":24,"s":0.52},{"g":"Low","t":27,"s":0.4},{"g":"Low","t":30,"s":0.3},{"g":"Low","t":33,"s":0.22},{"g":"Low","t":45,"s":0.22,"c":1},{"g":"Low","t":52,"s":0.22,"c":1},{"g":"Low","t":58,"s":0.16},{"g":"Low","t":75,"s":0.16,"c":1},{"g":"Low","t":93,"s":0},
{"g":"High","t":0,"s":1},{"g":"High","t":3,"s":0.94},{"g":"High","t":6,"s":0.88},{"g":"High","t":9,"s":0.82},{"g":"High","t":12,"s":0.72},{"g":"High","t":15,"s":0.6},{"g":"High","t":18,"s":0.5},{"g":"High","t":21,"s":0.43},{"g":"High","t":24,"s":0.37},{"g":"High","t":27,"s":0.3},{"g":"High","t":30,"s":0.22},{"g":"High","t":35,"s":0.17},{"g":"High","t":40,"s":0.12},{"g":"High","t":45,"s":0.05},{"g":"High","t":84,"s":0.05}],
"kD8":[{"g":"Low","t":0,"s":1},{"g":"Low","t":3,"s":0.95},{"g":"Low","t":6,"s":0.88},{"g":"Low","t":9,"s":0.8},{"g":"Low","t":12,"s":0.7},{"g":"Low","t":15,"s":0.61},{"g":"Low","t":18,"s":0.52},{"g":"Low","t":21,"s":0.45},{"g":"Low","t":24,"s":0.38},{"g":"Low","t":27,"s":0.32},{"g":"Low","t":31,"s":0.27},{"g":"Low","t":40,"s":0.22},{"g":"Low","t":50,"s":0.19},{"g":"Low","t":57,"s":0.18},{"g":"Low","t":62,"s":0.18,"c":1},{"g":"Low","t":68,"s":0.1},{"g":"Low","t":81,"s":0},
{"g":"High","t":0,"s":1},{"g":"High","t":3,"s":0.94},{"g":"High","t":6,"s":0.87},{"g":"High","t":9,"s":0.79},{"g":"High","t":12,"s":0.68},{"g":"High","t":15,"s":0.58},{"g":"High","t":18,"s":0.48},{"g":"High","t":21,"s":0.4},{"g":"High","t":24,"s":0.32},{"g":"High","t":27,"s":0.25},{"g":"High","t":30,"s":0.18},{"g":"High","t":35,"s":0.14},{"g":"High","t":45,"s":0.11},{"g":"High","t":55,"s":0.1,"c":1},{"g":"High","t":60,"s":0.1,"c":1},{"g":"High","t":75,"s":0.1,"c":1},{"g":"High","t":93,"s":0}],
"kD4":[{"g":"Low","t":0,"s":1},{"g":"Low","t":3,"s":0.95},{"g":"Low","t":6,"s":0.88},{"g":"Low","t":9,"s":0.8},{"g":"Low","t":12,"s":0.71},{"g":"Low","t":15,"s":0.62},{"g":"Low","t":18,"s":0.52},{"g":"Low","t":21,"s":0.45},{"g":"Low","t":24,"s":0.36},{"g":"Low","t":27,"s":0.28},{"g":"Low","t":30,"s":0.21},{"g":"Low","t":35,"s":0.17},{"g":"Low","t":45,"s":0.15},{"g":"Low","t":52,"s":0.1},{"g":"Low","t":56,"s":0.07},{"g":"Low","t":63,"s":0.07,"c":1},
{"g":"High","t":0,"s":1},{"g":"High","t":3,"s":0.93},{"g":"High","t":6,"s":0.85},{"g":"High","t":9,"s":0.76},{"g":"High","t":12,"s":0.66},{"g":"High","t":15,"s":0.56},{"g":"High","t":18,"s":0.48},{"g":"High","t":21,"s":0.41},{"g":"High","t":24,"s":0.35},{"g":"High","t":27,"s":0.26},{"g":"High","t":30,"s":0.2},{"g":"High","t":35,"s":0.18},{"g":"High","t":45,"s":0.16},{"g":"High","t":55,"s":0.14},{"g":"High","t":65,"s":0.14,"c":1},{"g":"High","t":77,"s":0.14},{"g":"High","t":80,"s":0.08},{"g":"High","t":90,"s":0.05},{"g":"High","t":93,"s":0}],
"kDM":[{"g":"Low","t":0,"s":1},{"g":"Low","t":3,"s":0.95},{"g":"Low","t":6,"s":0.9},{"g":"Low","t":9,"s":0.83},{"g":"Low","t":12,"s":0.75},{"g":"Low","t":15,"s":0.66},{"g":"Low","t":18,"s":0.56},{"g":"Low","t":21,"s":0.46},{"g":"Low","t":24,"s":0.36},{"g":"Low","t":28,"s":0.27},{"g":"Low","t":32,"s":0.22},{"g":"Low","t":40,"s":0.18},{"g":"Low","t":50,"s":0.14},{"g":"Low","t":60,"s":0.14,"c":1},{"g":"Low","t":75,"s":0.14,"c":1},{"g":"Low","t":85,"s":0.14,"c":1},{"g":"Low","t":94,"s":0},
{"g":"High","t":0,"s":1},{"g":"High","t":3,"s":0.92},{"g":"High","t":6,"s":0.83},{"g":"High","t":9,"s":0.72},{"g":"High","t":12,"s":0.62},{"g":"High","t":15,"s":0.52},{"g":"High","t":18,"s":0.43},{"g":"High","t":21,"s":0.36},{"g":"High","t":24,"s":0.28},{"g":"High","t":28,"s":0.2},{"g":"High","t":32,"s":0.15},{"g":"High","t":40,"s":0.1},{"g":"High","t":48,"s":0.06},{"g":"High","t":84,"s":0.06}],
"kDN":[{"g":"Low","t":0,"s":1},{"g":"Low","t":3,"s":0.96},{"g":"Low","t":5,"s":0.88},{"g":"Low","t":8,"s":0.78},{"g":"Low","t":10,"s":0.7},{"g":"Low","t":12,"s":0.62},{"g":"Low","t":14,"s":0.53},{"g":"Low","t":18,"s":0.44},{"g":"Low","t":20,"s":0.35},{"g":"Low","t":22,"s":0.27},{"g":"Low","t":26,"s":0.18},{"g":"Low","t":30,"s":0.09},{"g":"Low","t":34,"s":0.06},{"g":"Low","t":57,"s":0.06},
{"g":"High","t":0,"s":1},{"g":"High","t":3,"s":0.97},{"g":"High","t":6,"s":0.93},{"g":"High","t":8,"s":0.88},{"g":"High","t":10,"s":0.82},{"g":"High","t":12,"s":0.77},{"g":"High","t":14,"s":0.72},{"g":"High","t":16,"s":0.66},{"g":"High","t":18,"s":0.59},{"g":"High","t":24,"s":0.55},{"g":"High","t":26,"s":0.5},{"g":"High","t":28,"s":0.44},{"g":"High","t":30,"s":0.38},{"g":"High","t":32,"s":0.33},{"g":"High","t":38,"s":0.29,"c":1},{"g":"High","t":47,"s":0.26,"c":1},{"g":"High","t":55,"s":0.21},{"g":"High","t":65,"s":0.21,"c":1},{"g":"High","t":75,"s":0.21,"c":1},{"g":"High","t":84,"s":0.1},{"g":"High","t":93,"s":0}],
"kDD":[{"g":"Low","t":0,"s":1},{"g":"Low","t":3,"s":0.95},{"g":"Low","t":6,"s":0.88},{"g":"Low","t":9,"s":0.8},{"g":"Low","t":12,"s":0.72},{"g":"Low","t":15,"s":0.66},{"g":"Low","t":18,"s":0.6},{"g":"Low","t":22,"s":0.55},{"g":"Low","t":25,"s":0.47},{"g":"Low","t":28,"s":0.38},{"g":"Low","t":31,"s":0.3},{"g":"Low","t":33,"s":0.25},{"g":"Low","t":45,"s":0.25,"c":1},{"g":"Low","t":53,"s":0.25},{"g":"Low","t":55,"s":0.16},{"g":"Low","t":70,"s":0.16,"c":1},{"g":"Low","t":84,"s":0.16},{"g":"Low","t":90,"s":0.09},{"g":"Low","t":93,"s":0},
{"g":"High","t":0,"s":1},{"g":"High","t":3,"s":0.94},{"g":"High","t":6,"s":0.85},{"g":"High","t":9,"s":0.76},{"g":"High","t":12,"s":0.67},{"g":"High","t":15,"s":0.59},{"g":"High","t":18,"s":0.5},{"g":"High","t":21,"s":0.42},{"g":"High","t":24,"s":0.35},{"g":"High","t":27,"s":0.27},{"g":"High","t":30,"s":0.22},{"g":"High","t":35,"s":0.16},{"g":"High","t":42,"s":0.07},{"g":"High","t":60,"s":0.07,"c":1},{"g":"High","t":83,"s":0.07}],
"kDT":[{"g":"Low","t":0,"s":1},{"g":"Low","t":3,"s":0.95},{"g":"Low","t":6,"s":0.88},{"g":"Low","t":9,"s":0.8},{"g":"Low","t":12,"s":0.7},{"g":"Low","t":15,"s":0.62},{"g":"Low","t":18,"s":0.52},{"g":"Low","t":21,"s":0.45},{"g":"Low","t":25,"s":0.4},{"g":"Low","t":30,"s":0.35},{"g":"Low","t":32,"s":0.31},{"g":"Low","t":40,"s":0.31,"c":1},{"g":"Low","t":46,"s":0.27},{"g":"Low","t":50,"s":0.23},{"g":"Low","t":57,"s":0.22},{"g":"Low","t":65,"s":0.2},{"g":"Low","t":80,"s":0.16},{"g":"Low","t":84,"s":0.09},{"g":"Low","t":93,"s":0},
{"g":"High","t":0,"s":1},{"g":"High","t":3,"s":0.94},{"g":"High","t":6,"s":0.86},{"g":"High","t":9,"s":0.76},{"g":"High","t":12,"s":0.67},{"g":"High","t":15,"s":0.57},{"g":"High","t":18,"s":0.5},{"g":"High","t":21,"s":0.44},{"g":"High","t":23,"s":0.38},{"g":"High","t":25,"s":0.25},{"g":"High","t":27,"s":0.12},{"g":"High","t":29,"s":0.08},{"g":"High","t":50,"s":0.08,"c":1},{"g":"High","t":70,"s":0.08}]
},
"vconcat":[
{"columns":9,"align":"each","bounds":"flush","spacing":{"row":2,"column":3},"concat":[
{"width":34,"height":10,"view":{"stroke":null},"data":{"values":[]},"mark":"point"},
{"width":8,"height":10,"view":{"stroke":null},"data":{"values":[]},"mark":"point"},
{"width":91,"height":10,"view":{"fill":"#d9d9d9","stroke":null},"data":{"values":[{"lab":"Purity"}]},"mark":{"type":"text","style":"strip"},"encoding":{"text":{"field":"lab"}}},
{"width":91,"height":10,"view":{"fill":"#d9d9d9","stroke":null},"data":{"values":[{"lab":"B Cell"}]},"mark":{"type":"text","style":"strip"},"encoding":{"text":{"field":"lab"}}},
{"width":91,"height":10,"view":{"fill":"#d9d9d9","stroke":null},"data":{"values":[{"lab":"CD8+ T Cell"}]},"mark":{"type":"text","style":"strip"},"encoding":{"text":{"field":"lab"}}},
{"width":91,"height":10,"view":{"fill":"#d9d9d9","stroke":null},"data":{"values":[{"lab":"CD4+ T Cell"}]},"mark":{"type":"text","style":"strip"},"encoding":{"text":{"field":"lab"}}},
{"width":91,"height":10,"view":{"fill":"#d9d9d9","stroke":null},"data":{"values":[{"lab":"Macrophage"}]},"mark":{"type":"text","style":"strip"},"encoding":{"text":{"field":"lab"}}},
{"width":91,"height":10,"view":{"fill":"#d9d9d9","stroke":null},"data":{"values":[{"lab":"Neutrophil"}]},"mark":{"type":"text","style":"strip"},"encoding":{"text":{"field":"lab"}}},
{"width":91,"height":10,"view":{"fill":"#d9d9d9","stroke":null},"data":{"values":[{"lab":"Dendritic Cell"}]},"mark":{"type":"text","style":"strip"},"encoding":{"text":{"field":"lab"}}},

{"width":34,"height":108,"view":{"stroke":null},"data":{"values":[{"lab":"A","ttl":"TGFB2 Expression Level (log2 RSEM)"}]},"layer":[{"mark":{"type":"text","fontWeight":"bold","fontSize":12,"color":"#000000","dx":5,"dy":3},"encoding":{"text":{"field":"lab"}}},{"mark":{"type":"text","font":"Liberation Serif","fontSize":13.5,"color":"#000000","angle":270,"dx":-55,"dy":-7},"encoding":{"text":{"field":"ttl"}}}]},
{"width":8,"height":108,"view":{"fill":"#d9d9d9","stroke":null},"data":{"values":[{"lab":"MESO"}]},"layer":[{"mark":{"type":"text","style":"strip","fontSize":5.5,"angle":270},"encoding":{"text":{"field":"lab"}}},{"mark":{"type":"point","opacity":0},"encoding":{"y":{"datum":9,"type":"quantitative","scale":{"domain":[2.9,16]},"axis":{"title":null,"grid":false,"tickCount":50,"format":"d","labelOverlap":false,"values":[3,6,9,12,15]}}}}]},
{"width":91,"height":108,"layer":[{"data":{"name":"fmP"},"mark":{"type":"area","color":"#999999","opacity":0.45},"encoding":{"x":{"field":"x","type":"quantitative","scale":{"domain":[0.018,1.03]},"axis":{"title":null,"tickCount":50,"values":[0.125,0.25,0.375,0.5,0.625,0.75,0.875,1],"labels":false,"ticks":false}},"y":{"field":"lo","type":"quantitative","scale":{"domain":[2.9,16]},"axis":{"title":null,"tickCount":50,"values":[3,4.5,6,7.5,9,10.5,12,13.5,15],"labels":false,"ticks":false}},"y2":{"field":"hi"}}},{"data":{"name":"mP"},"mark":"circle","encoding":{"x":{"field":"x","type":"quantitative"},"y":{"field":"y","type":"quantitative"}}},{"data":{"name":"fmP"},"mark":{"type":"line","color":"#3366cc","strokeWidth":1.4,"interpolate":"monotone"},"encoding":{"x":{"field":"x","type":"quantitative"},"y":{"field":"f","type":"quantitative"}}},{"data":{"values":[{"l1":"cor = -0.079","l2":"P = 4.09e-01"}]},"layer":[{"mark":{"type":"text","style":"ann","dy":4.3},"encoding":{"text":{"field":"l1"},"x":{"value":"width"},"y":{"value":0}}},{"mark":{"type":"text","style":"ann","dy":12.6},"encoding":{"text":{"field":"l2"},"x":{"value":"width"},"y":{"value":0}}}]}]},
{"width":91,"height":108,"layer":[{"data":{"name":"fmB"},"mark":{"type":"area","color":"#999999","opacity":0.45},"encoding":{"x":{"field":"x","type":"quantitative","scale":{"domain":[-0.018,0.484]},"axis":{"title":null,"tickCount":50,"values":[0,0.05,0.1,0.15,0.2,0.25,0.3,0.35,0.4,0.45],"labels":false,"ticks":false}},"y":{"field":"lo","type":"quantitative","scale":{"domain":[2.9,16]},"axis":{"title":null,"tickCount":50,"values":[3,4.5,6,7.5,9,10.5,12,13.5,15],"labels":false,"ticks":false}},"y2":{"field":"hi"}}},{"data":{"name":"mB"},"mark":"circle","encoding":{"x":{"field":"x","type":"quantitative"},"y":{"field":"y","type":"quantitative"}}},{"data":{"name":"fmB"},"mark":{"type":"line","color":"#3366cc","strokeWidth":1.4,"interpolate":"monotone"},"encoding":{"x":{"field":"x","type":"quantitative"},"y":{"field":"f","type":"quantitative"}}},{"data":{"values":[{"l1":"partial.cor = -0.133","l2":"P = 2.29e-01"}]},"layer":[{"mark":{"type":"text","style":"ann","dy":4.3},"encoding":{"text":{"field":"l1"},"x":{"value":"width"},"y":{"value":0}}},{"mark":{"type":"text","style":"ann","dy":12.6},"encoding":{"text":{"field":"l2"},"x":{"value":"width"},"y":{"value":0}}}]}]},
{"width":91,"height":108,"layer":[{"data":{"name":"fm8"},"mark":{"type":"area","color":"#999999","opacity":0.45},"encoding":{"x":{"field":"x","type":"quantitative","scale":{"domain":[-0.028,0.746]},"axis":{"title":null,"tickCount":50,"values":[0,0.1,0.2,0.3,0.4,0.5,0.6,0.7],"labels":false,"ticks":false}},"y":{"field":"lo","type":"quantitative","scale":{"domain":[2.9,16]},"axis":{"title":null,"tickCount":50,"values":[3,4.5,6,7.5,9,10.5,12,13.5,15],"labels":false,"ticks":false}},"y2":{"field":"hi"}}},{"data":{"name":"m8"},"mark":"circle","encoding":{"x":{"field":"x","type":"quantitative"},"y":{"field":"y","type":"quantitative"}}},{"data":{"name":"fm8"},"mark":{"type":"line","color":"#3366cc","strokeWidth":1.4,"interpolate":"monotone"},"encoding":{"x":{"field":"x","type":"quantitative"},"y":{"field":"f","type":"quantitative"}}},{"data":{"values":[{"l1":"partial.cor = -0.139","l2":"P = 2.08e-01"}]},"layer":[{"mark":{"type":"text","style":"ann","dy":4.3},"encoding":{"text":{"field":"l1"},"x":{"value":"width"},"y":{"value":0}}},{"mark":{"type":"text","style":"ann","dy":12.6},"encoding":{"text":{"field":"l2"},"x":{"value":"width"},"y":{"value":0}}}]}]},
{"width":91,"height":108,"layer":[{"data":{"name":"fm4"},"mark":{"type":"area","color":"#999999","opacity":0.45},"encoding":{"x":{"field":"x","type":"quantitative","scale":{"domain":[-0.012,0.442]},"axis":{"title":null,"tickCount":50,"values":[0,0.05,0.1,0.15,0.2,0.25,0.3,0.35,0.4],"labels":false,"ticks":false}},"y":{"field":"lo","type":"quantitative","scale":{"domain":[2.9,16]},"axis":{"title":null,"tickCount":50,"values":[3,4.5,6,7.5,9,10.5,12,13.5,15],"labels":false,"ticks":false}},"y2":{"field":"hi"}}},{"data":{"name":"m4"},"mark":"circle","encoding":{"x":{"field":"x","type":"quantitative"},"y":{"field":"y","type":"quantitative"}}},{"data":{"name":"fm4"},"mark":{"type":"line","color":"#3366cc","strokeWidth":1.4,"interpolate":"monotone"},"encoding":{"x":{"field":"x","type":"quantitative"},"y":{"field":"f","type":"quantitative"}}},{"data":{"values":[{"l1":"partial.cor = 0.042","l2":"P = 7.06e-01"}]},"layer":[{"mark":{"type":"text","style":"ann","dy":4.3},"encoding":{"text":{"field":"l1"},"x":{"value":"width"},"y":{"value":0}}},{"mark":{"type":"text","style":"ann","dy":12.6},"encoding":{"text":{"field":"l2"},"x":{"value":"width"},"y":{"value":0}}}]}]},
{"width":91,"height":108,"layer":[{"data":{"name":"fmM"},"mark":{"type":"area","color":"#999999","opacity":0.45},"encoding":{"x":{"field":"x","type":"quantitative","scale":{"domain":[-0.018,0.39]},"axis":{"title":null,"tickCount":50,"values":[0,0.05,0.1,0.15,0.2,0.25,0.3,0.35],"labels":false,"ticks":false}},"y":{"field":"lo","type":"quantitative","scale":{"domain":[2.9,16]},"axis":{"title":null,"tickCount":50,"values":[3,4.5,6,7.5,9,10.5,12,13.5,15],"labels":false,"ticks":false}},"y2":{"field":"hi"}}},{"data":{"name":"mM"},"mark":"circle","encoding":{"x":{"field":"x","type":"quantitative"},"y":{"field":"y","type":"quantitative"}}},{"data":{"name":"fmM"},"mark":{"type":"line","color":"#3366cc","strokeWidth":1.4,"interpolate":"monotone"},"encoding":{"x":{"field":"x","type":"quantitative"},"y":{"field":"f","type":"quantitative"}}},{"data":{"values":[{"l1":"partial.cor = 0.025","l2":"P = 8.19e-01"}]},"layer":[{"mark":{"type":"text","style":"ann","dy":4.3},"encoding":{"text":{"field":"l1"},"x":{"value":"width"},"y":{"value":0}}},{"mark":{"type":"text","style":"ann","dy":12.6},"encoding":{"text":{"field":"l2"},"x":{"value":"width"},"y":{"value":0}}}]}]},
{"width":91,"height":108,"layer":[{"data":{"name":"fmN"},"mark":{"type":"area","color":"#999999","opacity":0.45},"encoding":{"x":{"field":"x","type":"quantitative","scale":{"domain":[0.027,0.365]},"axis":{"title":null,"tickCount":50,"values":[0.05,0.1,0.15,0.2,0.25,0.3,0.35],"labels":false,"ticks":false}},"y":{"field":"lo","type":"quantitative","scale":{"domain":[2.9,16]},"axis":{"title":null,"tickCount":50,"values":[3,4.5,6,7.5,9,10.5,12,13.5,15],"labels":false,"ticks":false}},"y2":{"field":"hi"}}},{"data":{"name":"mN"},"mark":"circle","encoding":{"x":{"field":"x","type":"quantitative"},"y":{"field":"y","type":"quantitative"}}},{"data":{"name":"fmN"},"mark":{"type":"line","color":"#3366cc","strokeWidth":1.4,"interpolate":"monotone"},"encoding":{"x":{"field":"x","type":"quantitative"},"y":{"field":"f","type":"quantitative"}}},{"data":{"values":[{"l1":"partial.cor = -0.099","l2":"P = 3.68e-01"}]},"layer":[{"mark":{"type":"text","style":"ann","dy":4.3},"encoding":{"text":{"field":"l1"},"x":{"value":"width"},"y":{"value":0}}},{"mark":{"type":"text","style":"ann","dy":12.6},"encoding":{"text":{"field":"l2"},"x":{"value":"width"},"y":{"value":0}}}]}]},
{"width":91,"height":108,"layer":[{"data":{"name":"fmD"},"mark":{"type":"area","color":"#999999","opacity":0.45},"encoding":{"x":{"field":"x","type":"quantitative","scale":{"domain":[0.21,1.18]},"axis":{"title":null,"tickCount":50,"values":[0.3,0.4,0.5,0.6,0.7,0.8,0.9,1,1.1],"labels":false,"ticks":false}},"y":{"field":"lo","type":"quantitative","scale":{"domain":[2.9,16]},"axis":{"title":null,"tickCount":50,"values":[3,4.5,6,7.5,9,10.5,12,13.5,15],"labels":false,"ticks":false}},"y2":{"field":"hi"}}},{"data":{"name":"mD"},"mark":"circle","encoding":{"x":{"field":"x","type":"quantitative"},"y":{"field":"y","type":"quantitative"}}},{"data":{"name":"fmD"},"mark":{"type":"line","color":"#3366cc","strokeWidth":1.4,"interpolate":"monotone"},"encoding":{"x":{"field":"x","type":"quantitative"},"y":{"field":"f","type":"quantitative"}}},{"data":{"values":[{"l1":"partial.cor = -0.149","l2":"P = 1.76e-01"}]},"layer":[{"mark":{"type":"text","style":"ann","dy":4.3},"encoding":{"text":{"field":"l1"},"x":{"value":"width"},"y":{"value":0}}},{"mark":{"type":"text","style":"ann","dy":12.6},"encoding":{"text":{"field":"l2"},"x":{"value":"width"},"y":{"value":0}}}]}]},

{"width":34,"height":108,"view":{"stroke":null},"data":{"values":[{"lab":"B"}]},"mark":{"type":"text","fontWeight":"bold","fontSize":12,"color":"#000000","dx":5,"dy":1},"encoding":{"text":{"field":"lab"}}},
{"width":8,"height":108,"view":{"fill":"#d9d9d9","stroke":null},"data":{"values":[{"lab":"STAD"}]},"layer":[{"mark":{"type":"text","style":"strip","fontSize":5.5,"angle":270},"encoding":{"text":{"field":"lab"}}},{"mark":{"type":"point","opacity":0},"encoding":{"y":{"datum":8,"type":"quantitative","scale":{"domain":[3.85,12.04]},"axis":{"title":null,"grid":false,"tickCount":50,"format":"d","labelOverlap":false,"values":[4,6,8,10]}}}}]},
{"width":91,"height":108,"layer":[{"data":{"name":"fsP"},"mark":{"type":"area","color":"#999999","opacity":0.45},"encoding":{"x":{"field":"x","type":"quantitative","scale":{"domain":[0.018,1.03]},"axis":{"title":null,"tickCount":50,"values":[0.125,0.25,0.375,0.5,0.625,0.75,0.875,1],"format":".2f","labelOverlap":false,"labelExpr":"round(datum.value*8) % 2 ? '' : datum.label","tickOpacity":{"condition":{"test":"round(datum.value*8) % 2","value":0},"value":1}}},"y":{"field":"lo","type":"quantitative","scale":{"domain":[3.85,12.04]},"axis":{"title":null,"tickCount":50,"values":[4,5,6,7,8,9,10,11,12],"labels":false,"ticks":false}},"y2":{"field":"hi"}}},{"data":{"name":"sP"},"mark":"circle","encoding":{"x":{"field":"x","type":"quantitative"},"y":{"field":"y","type":"quantitative"}}},{"data":{"name":"fsP"},"mark":{"type":"line","color":"#3366cc","strokeWidth":1.4,"interpolate":"monotone"},"encoding":{"x":{"field":"x","type":"quantitative"},"y":{"field":"f","type":"quantitative"}}},{"data":{"values":[{"l1":"cor = -0.082","l2":"P = 1.10e-01"}]},"layer":[{"mark":{"type":"text","style":"ann","dy":4.3},"encoding":{"text":{"field":"l1"},"x":{"value":"width"},"y":{"value":0}}},{"mark":{"type":"text","style":"ann","dy":12.6},"encoding":{"text":{"field":"l2"},"x":{"value":"width"},"y":{"value":0}}}]}]},
{"width":91,"height":108,"layer":[{"data":{"name":"fsB"},"mark":{"type":"area","color":"#999999","opacity":0.45},"encoding":{"x":{"field":"x","type":"quantitative","scale":{"domain":[-0.018,0.484]},"axis":{"title":null,"tickCount":50,"values":[0,0.05,0.1,0.15,0.2,0.25,0.3,0.35,0.4,0.45],"format":".1f","labelOverlap":false,"labelExpr":"round(datum.value*20) % 2 ? '' : datum.label","tickOpacity":{"condition":{"test":"round(datum.value*20) % 2","value":0},"value":1}}},"y":{"field":"lo","type":"quantitative","scale":{"domain":[3.85,12.04]},"axis":{"title":null,"tickCount":50,"values":[4,5,6,7,8,9,10,11,12],"labels":false,"ticks":false}},"y2":{"field":"hi"}}},{"data":{"name":"sB"},"mark":"circle","encoding":{"x":{"field":"x","type":"quantitative"},"y":{"field":"y","type":"quantitative"}}},{"data":{"name":"fsB"},"mark":{"type":"line","color":"#3366cc","strokeWidth":1.4,"interpolate":"monotone"},"encoding":{"x":{"field":"x","type":"quantitative"},"y":{"field":"f","type":"quantitative"}}},{"data":{"values":[{"l1":"partial.cor = 0.044","l2":"P = 3.99e-01"}]},"layer":[{"mark":{"type":"text","style":"ann","dy":4.3},"encoding":{"text":{"field":"l1"},"x":{"value":"width"},"y":{"value":0}}},{"mark":{"type":"text","style":"ann","dy":12.6},"encoding":{"text":{"field":"l2"},"x":{"value":"width"},"y":{"value":0}}}]}]},
{"width":91,"height":108,"layer":[{"data":{"name":"fs8"},"mark":{"type":"area","color":"#999999","opacity":0.45},"encoding":{"x":{"field":"x","type":"quantitative","scale":{"domain":[-0.028,0.746]},"axis":{"title":null,"tickCount":50,"values":[0,0.1,0.2,0.3,0.4,0.5,0.6,0.7],"format":".1f","labelOverlap":false,"labelExpr":"round(datum.value*10) % 2 ? '' : datum.label","tickOpacity":{"condition":{"test":"round(datum.value*10) % 2","value":0},"value":1}}},"y":{"field":"lo","type":"quantitative","scale":{"domain":[3.85,12.04]},"axis":{"title":null,"tickCount":50,"values":[4,5,6,7,8,9,10,11,12],"labels":false,"ticks":false}},"y2":{"field":"hi"}}},{"data":{"name":"s8"},"mark":"circle","encoding":{"x":{"field":"x","type":"quantitative"},"y":{"field":"y","type":"quantitative"}}},{"data":{"name":"fs8"},"mark":{"type":"line","color":"#3366cc","strokeWidth":1.4,"interpolate":"monotone"},"encoding":{"x":{"field":"x","type":"quantitative"},"y":{"field":"f","type":"quantitative"}}},{"data":{"values":[{"l1":"partial.cor = 0.139","l2":"P = 7.24e-03"}]},"layer":[{"mark":{"type":"text","style":"ann","dy":4.3},"encoding":{"text":{"field":"l1"},"x":{"value":"width"},"y":{"value":0}}},{"mark":{"type":"text","style":"ann","dy":12.6},"encoding":{"text":{"field":"l2"},"x":{"value":"width"},"y":{"value":0}}}]}]},
{"width":91,"height":108,"layer":[{"data":{"name":"fs4"},"mark":{"type":"area","color":"#999999","opacity":0.45},"encoding":{"x":{"field":"x","type":"quantitative","scale":{"domain":[-0.012,0.442]},"axis":{"title":"Infiltration level","tickCount":50,"values":[0,0.05,0.1,0.15,0.2,0.25,0.3,0.35,0.4],"format":".1f","titlePadding":8,"titleX":40,"labelOverlap":false,"labelExpr":"round(datum.value*20) % 2 ? '' : datum.label","tickOpacity":{"condition":{"test":"round(datum.value*20) % 2","value":0},"value":1}}},"y":{"field":"lo","type":"quantitative","scale":{"domain":[3.85,12.04]},"axis":{"title":null,"tickCount":50,"values":[4,5,6,7,8,9,10,11,12],"labels":false,"ticks":false}},"y2":{"field":"hi"}}},{"data":{"name":"s4"},"mark":"circle","encoding":{"x":{"field":"x","type":"quantitative"},"y":{"field":"y","type":"quantitative"}}},{"data":{"name":"fs4"},"mark":{"type":"line","color":"#3366cc","strokeWidth":1.4,"interpolate":"monotone"},"encoding":{"x":{"field":"x","type":"quantitative"},"y":{"field":"f","type":"quantitative"}}},{"data":{"values":[{"l1":"partial.cor = 0.258","l2":"P = 5.75e-07"}]},"layer":[{"mark":{"type":"text","style":"ann","dy":4.3},"encoding":{"text":{"field":"l1"},"x":{"value":"width"},"y":{"value":0}}},{"mark":{"type":"text","style":"ann","dy":12.6},"encoding":{"text":{"field":"l2"},"x":{"value":"width"},"y":{"value":0}}}]}]},
{"width":91,"height":108,"layer":[{"data":{"name":"fsM"},"mark":{"type":"area","color":"#999999","opacity":0.45},"encoding":{"x":{"field":"x","type":"quantitative","scale":{"domain":[-0.018,0.39]},"axis":{"title":null,"tickCount":50,"values":[0,0.05,0.1,0.15,0.2,0.25,0.3,0.35],"format":".1f","labelOverlap":false,"labelExpr":"round(datum.value*20) % 2 ? '' : datum.label","tickOpacity":{"condition":{"test":"round(datum.value*20) % 2","value":0},"value":1}}},"y":{"field":"lo","type":"quantitative","scale":{"domain":[3.85,12.04]},"axis":{"title":null,"tickCount":50,"values":[4,5,6,7,8,9,10,11,12],"labels":false,"ticks":false}},"y2":{"field":"hi"}}},{"data":{"name":"sM"},"mark":"circle","encoding":{"x":{"field":"x","type":"quantitative"},"y":{"field":"y","type":"quantitative"}}},{"data":{"name":"fsM"},"mark":{"type":"line","color":"#3366cc","strokeWidth":1.4,"interpolate":"monotone"},"encoding":{"x":{"field":"x","type":"quantitative"},"y":{"field":"f","type":"quantitative"}}},{"data":{"values":[{"l1":"partial.cor = 0.442","l2":"P = 3.77e-19"}]},"layer":[{"mark":{"type":"text","style":"ann","dy":4.3},"encoding":{"text":{"field":"l1"},"x":{"value":"width"},"y":{"value":0}}},{"mark":{"type":"text","style":"ann","dy":12.6},"encoding":{"text":{"field":"l2"},"x":{"value":"width"},"y":{"value":0}}}]}]},
{"width":91,"height":108,"layer":[{"data":{"name":"fsN"},"mark":{"type":"area","color":"#999999","opacity":0.45},"encoding":{"x":{"field":"x","type":"quantitative","scale":{"domain":[0.027,0.365]},"axis":{"title":null,"tickCount":50,"values":[0.05,0.1,0.15,0.2,0.25,0.3,0.35],"format":".1f","labelOverlap":false,"labelExpr":"round(datum.value*20) % 2 ? '' : datum.label","tickOpacity":{"condition":{"test":"round(datum.value*20) % 2","value":0},"value":1}}},"y":{"field":"lo","type":"quantitative","scale":{"domain":[3.85,12.04]},"axis":{"title":null,"tickCount":50,"values":[4,5,6,7,8,9,10,11,12],"labels":false,"ticks":false}},"y2":{"field":"hi"}}},{"data":{"name":"sN"},"mark":"circle","encoding":{"x":{"field":"x","type":"quantitative"},"y":{"field":"y","type":"quantitative"}}},{"data":{"name":"fsN"},"mark":{"type":"line","color":"#3366cc","strokeWidth":1.4,"interpolate":"monotone"},"encoding":{"x":{"field":"x","type":"quantitative"},"y":{"field":"f","type":"quantitative"}}},{"data":{"values":[{"l1":"partial.cor = 0.124","l2":"P = 1.68e-02"}]},"layer":[{"mark":{"type":"text","style":"ann","dy":4.3},"encoding":{"text":{"field":"l1"},"x":{"value":"width"},"y":{"value":0}}},{"mark":{"type":"text","style":"ann","dy":12.6},"encoding":{"text":{"field":"l2"},"x":{"value":"width"},"y":{"value":0}}}]}]},
{"width":91,"height":108,"layer":[{"data":{"name":"fsD"},"mark":{"type":"area","color":"#999999","opacity":0.45},"encoding":{"x":{"field":"x","type":"quantitative","scale":{"domain":[0.21,1.18]},"axis":{"title":null,"tickCount":50,"values":[0.3,0.4,0.5,0.6,0.7,0.8,0.9,1,1.1],"format":".1f","labelOverlap":false,"labelExpr":"round(datum.value*10) % 2 ? '' : datum.label","tickOpacity":{"condition":{"test":"round(datum.value*10) % 2","value":0},"value":1}}},"y":{"field":"lo","type":"quantitative","scale":{"domain":[3.85,12.04]},"axis":{"title":null,"tickCount":50,"values":[4,5,6,7,8,9,10,11,12],"labels":false,"ticks":false}},"y2":{"field":"hi"}}},{"data":{"name":"sD"},"mark":"circle","encoding":{"x":{"field":"x","type":"quantitative"},"y":{"field":"y","type":"quantitative"}}},{"data":{"name":"fsD"},"mark":{"type":"line","color":"#3366cc","strokeWidth":1.4,"interpolate":"monotone"},"encoding":{"x":{"field":"x","type":"quantitative"},"y":{"field":"f","type":"quantitative"}}},{"data":{"values":[{"l1":"partial.cor = 0.248","l2":"P = 1.29e-06"}]},"layer":[{"mark":{"type":"text","style":"ann","dy":4.3},"encoding":{"text":{"field":"l1"},"x":{"value":"width"},"y":{"value":0}}},{"mark":{"type":"text","style":"ann","dy":12.6},"encoding":{"text":{"field":"l2"},"x":{"value":"width"},"y":{"value":0}}}]}]}
]},
{"columns":9,"align":"each","bounds":"flush","spacing":{"row":2,"column":2.7},"concat":[
{"width":40,"height":7,"view":{"stroke":null},"data":{"values":[]},"mark":"point"},
{"width":84,"height":7,"view":{"fill":"#d9d9d9","stroke":null},"data":{"values":[{"lab":"B Cell"}]},"mark":{"type":"text","style":"strip","fontSize":5},"encoding":{"text":{"field":"lab"}}},
{"width":84,"height":7,"view":{"fill":"#d9d9d9","stroke":null},"data":{"values":[{"lab":"CD8+ T Cell"}]},"mark":{"type":"text","style":"strip","fontSize":5},"encoding":{"text":{"field":"lab"}}},
{"width":84,"height":7,"view":{"fill":"#d9d9d9","stroke":null},"data":{"values":[{"lab":"CD4+ T Cell"}]},"mark":{"type":"text","style":"strip","fontSize":5},"encoding":{"text":{"field":"lab"}}},
{"width":84,"height":7,"view":{"fill":"#d9d9d9","stroke":null},"data":{"values":[{"lab":"Macrophage"}]},"mark":{"type":"text","style":"strip","fontSize":5},"encoding":{"text":{"field":"lab"}}},
{"width":84,"height":7,"view":{"fill":"#d9d9d9","stroke":null},"data":{"values":[{"lab":"Neutrophil"}]},"mark":{"type":"text","style":"strip","fontSize":5},"encoding":{"text":{"field":"lab"}}},
{"width":84,"height":7,"view":{"fill":"#d9d9d9","stroke":null},"data":{"values":[{"lab":"Dendritic Cell"}]},"mark":{"type":"text","style":"strip","fontSize":5},"encoding":{"text":{"field":"lab"}}},
{"width":84,"height":7,"view":{"fill":"#d9d9d9","stroke":null},"data":{"values":[{"lab":"TGFB2"}]},"mark":{"type":"text","style":"strip","fontSize":5},"encoding":{"text":{"field":"lab"}}},
{"width":7,"height":7,"view":{"stroke":null},"data":{"values":[]},"mark":"point"},

{"width":40,"height":87,"view":{"stroke":null},"data":{"values":[{"lab":"C","ttl":"Cumulative Survival"}]},"layer":[{"mark":{"type":"text","fontWeight":"bold","fontSize":12,"color":"#000000","dx":2,"dy":-9.5},"encoding":{"text":{"field":"lab"}}},{"mark":{"type":"text","font":"Liberation Serif","fontSize":13.5,"color":"#000000","angle":270,"dx":-47.5,"dy":-10},"encoding":{"text":{"field":"ttl"}}}]},
{"width":84,"height":87,"data":{"name":"kCB"},"layer":[{"mark":{"type":"line","interpolate":"step-after"},"encoding":{"x":{"field":"t","type":"quantitative","scale":{"domain":[-4.65,97.65]},"axis":{"title":null,"tickCount":50,"values":[0,12.5,25,37.5,50,62.5,75,87.5],"labels":false,"ticks":false}},"y":{"field":"s","type":"quantitative","scale":{"domain":[0.203,1.042]},"axis":{"title":null,"tickCount":50,"values":[0.3,0.4,0.5,0.6,0.7,0.8,0.9,1],"format":".1f","labelOverlap":false,"labelExpr":"round(datum.value*10) % 2 ? '' : datum.label","tickOpacity":{"condition":{"test":"round(datum.value*10) % 2","value":0},"value":1}}},"color":{"field":"g","type":"nominal","scale":{"domain":["Low","High"],"range":["#4a6bd0","#ff4a4a"]},"legend":{"title":"Level","orient":"none","legendX":662,"legendY":362,"padding":0,"labelExpr":"datum.label == 'Low' ? 'Low (Bottom 50%)' : 'High (Top 50%)'","symbolType":"stroke","symbolStrokeWidth":1,"symbolSize":64,"labelOffset":2,"labelFontSize":4.4,"labelFont":"Liberation Sans","labelColor":"#333333","titleFontSize":6,"titleFont":"Liberation Sans","titleFontWeight":"normal","rowPadding":3,"titlePadding":3}}}},{"transform":[{"filter":"datum.c"}],"mark":{"type":"point","shape":"M-1,0H1M0,-1V1","size":10,"filled":false,"color":"#6e6e6e","strokeWidth":0.6,"opacity":1},"encoding":{"x":{"field":"t","type":"quantitative"},"y":{"field":"s","type":"quantitative"}}},{"data":{"values":[{"lab":"Log-rank P = .786"}]},"mark":{"type":"text","style":"lr"},"encoding":{"text":{"field":"lab"},"x":{"datum":60},"y":{"datum":1.007}}}]},
{"width":84,"height":87,"data":{"name":"kC8"},"layer":[{"mark":{"type":"line","interpolate":"step-after"},"encoding":{"x":{"field":"t","type":"quantitative","scale":{"domain":[-4.65,97.65]},"axis":{"title":null,"tickCount":50,"values":[0,12.5,25,37.5,50,62.5,75,87.5],"labels":false,"ticks":false}},"y":{"field":"s","type":"quantitative","scale":{"domain":[0.203,1.042]},"axis":{"title":null,"tickCount":50,"values":[0.3,0.4,0.5,0.6,0.7,0.8,0.9,1],"labels":false,"ticks":false}},"color":{"field":"g","type":"nominal","scale":{"domain":["Low","High"],"range":["#4a6bd0","#ff4a4a"]}}}},{"transform":[{"filter":"datum.c"}],"mark":{"type":"point","shape":"M-1,0H1M0,-1V1","size":10,"filled":false,"color":"#6e6e6e","strokeWidth":0.6,"opacity":1},"encoding":{"x":{"field":"t","type":"quantitative"},"y":{"field":"s","type":"quantitative"}}},{"data":{"values":[{"lab":"Log-rank P = .554"}]},"mark":{"type":"text","style":"lr"},"encoding":{"text":{"field":"lab"},"x":{"datum":60},"y":{"datum":1.007}}}]},
{"width":84,"height":87,"data":{"name":"kC4"},"layer":[{"mark":{"type":"line","interpolate":"step-after"},"encoding":{"x":{"field":"t","type":"quantitative","scale":{"domain":[-4.65,97.65]},"axis":{"title":null,"tickCount":50,"values":[0,12.5,25,37.5,50,62.5,75,87.5],"labels":false,"ticks":false}},"y":{"field":"s","type":"quantitative","scale":{"domain":[0.203,1.042]},"axis":{"title":null,"tickCount":50,"values":[0.3,0.4,0.5,0.6,0.7,0.8,0.9,1],"labels":false,"ticks":false}},"color":{"field":"g","type":"nominal","scale":{"domain":["Low","High"],"range":["#4a6bd0","#ff4a4a"]}}}},{"transform":[{"filter":"datum.c"}],"mark":{"type":"point","shape":"M-1,0H1M0,-1V1","size":10,"filled":false,"color":"#6e6e6e","strokeWidth":0.6,"opacity":1},"encoding":{"x":{"field":"t","type":"quantitative"},"y":{"field":"s","type":"quantitative"}}},{"data":{"values":[{"lab":"Log-rank P = .23"}]},"mark":{"type":"text","style":"lr"},"encoding":{"text":{"field":"lab"},"x":{"datum":62.5},"y":{"datum":1.007}}}]},
{"width":84,"height":87,"data":{"name":"kCM"},"layer":[{"mark":{"type":"line","interpolate":"step-after"},"encoding":{"x":{"field":"t","type":"quantitative","scale":{"domain":[-4.65,97.65]},"axis":{"title":null,"tickCount":50,"values":[0,12.5,25,37.5,50,62.5,75,87.5],"labels":false,"ticks":false}},"y":{"field":"s","type":"quantitative","scale":{"domain":[0.203,1.042]},"axis":{"title":null,"tickCount":50,"values":[0.3,0.4,0.5,0.6,0.7,0.8,0.9,1],"labels":false,"ticks":false}},"color":{"field":"g","type":"nominal","scale":{"domain":["Low","High"],"range":["#4a6bd0","#ff4a4a"]}}}},{"transform":[{"filter":"datum.c"}],"mark":{"type":"point","shape":"M-1,0H1M0,-1V1","size":10,"filled":false,"color":"#6e6e6e","strokeWidth":0.6,"opacity":1},"encoding":{"x":{"field":"t","type":"quantitative"},"y":{"field":"s","type":"quantitative"}}},{"data":{"values":[{"lab":"Log-rank P = .004"}]},"mark":{"type":"text","style":"lr"},"encoding":{"text":{"field":"lab"},"x":{"datum":55},"y":{"datum":1.007}}}]},
{"width":84,"height":87,"data":{"name":"kCN"},"layer":[{"mark":{"type":"line","interpolate":"step-after"},"encoding":{"x":{"field":"t","type":"quantitative","scale":{"domain":[-4.65,97.65]},"axis":{"title":null,"tickCount":50,"values":[0,12.5,25,37.5,50,62.5,75,87.5],"labels":false,"ticks":false}},"y":{"field":"s","type":"quantitative","scale":{"domain":[0.203,1.042]},"axis":{"title":null,"tickCount":50,"values":[0.3,0.4,0.5,0.6,0.7,0.8,0.9,1],"labels":false,"ticks":false}},"color":{"field":"g","type":"nominal","scale":{"domain":["Low","High"],"range":["#4a6bd0","#ff4a4a"]}}}},{"transform":[{"filter":"datum.c"}],"mark":{"type":"point","shape":"M-1,0H1M0,-1V1","size":10,"filled":false,"color":"#6e6e6e","strokeWidth":0.6,"opacity":1},"encoding":{"x":{"field":"t","type":"quantitative"},"y":{"field":"s","type":"quantitative"}}},{"data":{"values":[{"lab":"Log-rank P = .436"}]},"mark":{"type":"text","style":"lr"},"encoding":{"text":{"field":"lab"},"x":{"datum":62.5},"y":{"datum":1.007}}}]},
{"width":84,"height":87,"data":{"name":"kCD"},"layer":[{"mark":{"type":"line","interpolate":"step-after"},"encoding":{"x":{"field":"t","type":"quantitative","scale":{"domain":[-4.65,97.65]},"axis":{"title":null,"tickCount":50,"values":[0,12.5,25,37.5,50,62.5,75,87.5],"labels":false,"ticks":false}},"y":{"field":"s","type":"quantitative","scale":{"domain":[0.203,1.042]},"axis":{"title":null,"tickCount":50,"values":[0.3,0.4,0.5,0.6,0.7,0.8,0.9,1],"labels":false,"ticks":false}},"color":{"field":"g","type":"nominal","scale":{"domain":["Low","High"],"range":["#4a6bd0","#ff4a4a"]}}}},{"transform":[{"filter":"datum.c"}],"mark":{"type":"point","shape":"M-1,0H1M0,-1V1","size":10,"filled":false,"color":"#6e6e6e","strokeWidth":0.6,"opacity":1},"encoding":{"x":{"field":"t","type":"quantitative"},"y":{"field":"s","type":"quantitative"}}},{"data":{"values":[{"lab":"Log-rank P = .12"}]},"mark":{"type":"text","style":"lr"},"encoding":{"text":{"field":"lab"},"x":{"datum":66},"y":{"datum":1.007}}}]},
{"width":84,"height":87,"data":{"name":"kCT"},"layer":[{"mark":{"type":"line","interpolate":"step-after"},"encoding":{"x":{"field":"t","type":"quantitative","scale":{"domain":[-4.65,97.65]},"axis":{"title":null,"tickCount":50,"values":[0,12.5,25,37.5,50,62.5,75,87.5],"labels":false,"ticks":false}},"y":{"field":"s","type":"quantitative","scale":{"domain":[0.203,1.042]},"axis":{"title":null,"tickCount":50,"values":[0.3,0.4,0.5,0.6,0.7,0.8,0.9,1],"labels":false,"ticks":false}},"color":{"field":"g","type":"nominal","scale":{"domain":["Low","High"],"range":["#4a6bd0","#ff4a4a"]}}}},{"transform":[{"filter":"datum.c"}],"mark":{"type":"point","shape":"M-1,0H1M0,-1V1","size":10,"filled":false,"color":"#6e6e6e","strokeWidth":0.6,"opacity":1},"encoding":{"x":{"field":"t","type":"quantitative"},"y":{"field":"s","type":"quantitative"}}},{"data":{"values":[{"lab":"Log-rank P = 0"}]},"mark":{"type":"text","style":"lr"},"encoding":{"text":{"field":"lab"},"x":{"datum":73},"y":{"datum":1.007}}}]},
{"width":7,"height":87,"view":{"fill":"#d9d9d9","stroke":null},"data":{"values":[{"lab":"STAD"}]},"mark":{"type":"text","style":"strip","fontSize":5,"angle":90},"encoding":{"text":{"field":"lab"}}},

{"width":40,"height":88,"view":{"stroke":null},"data":{"values":[{"lab":"D"}]},"mark":{"type":"text","fontWeight":"bold","fontSize":12,"color":"#000000","dx":2,"dy":3},"encoding":{"text":{"field":"lab"}}},
{"width":84,"height":88,"data":{"name":"kDB"},"layer":[{"mark":{"type":"line","interpolate":"step-after"},"encoding":{"x":{"field":"t","type":"quantitative","scale":{"domain":[-4.65,97.65]},"axis":{"title":null,"tickCount":50,"values":[0,12.5,25,37.5,50,62.5,75,87.5],"labelOverlap":false,"labelExpr":"round(datum.value/12.5) % 2 ? '' : datum.label","tickOpacity":{"condition":{"test":"round(datum.value/12.5) % 2","value":0},"value":1}}},"y":{"field":"s","type":"quantitative","scale":{"domain":[-0.05,1.05]},"axis":{"title":null,"tickCount":50,"values":[0,0.125,0.25,0.375,0.5,0.625,0.75,0.875,1],"format":".2f","labelOverlap":false,"labelExpr":"round(datum.value*8) % 2 ? '' : datum.label","tickOpacity":{"condition":{"test":"round(datum.value*8) % 2","value":0},"value":1}}},"color":{"field":"g","type":"nominal","scale":{"domain":["Low","High"],"range":["#4a6bd0","#ff4a4a"]}}}},{"transform":[{"filter":"datum.c"}],"mark":{"type":"point","shape":"M-1,0H1M0,-1V1","size":10,"filled":false,"color":"#6e6e6e","strokeWidth":0.6,"opacity":1},"encoding":{"x":{"field":"t","type":"quantitative"},"y":{"field":"s","type":"quantitative"}}},{"data":{"values":[{"lab":"Log-rank P = .14"}]},"mark":{"type":"text","style":"lr"},"encoding":{"text":{"field":"lab"},"x":{"datum":58},"y":{"datum":1.017}}}]},
{"width":84,"height":88,"data":{"name":"kD8"},"layer":[{"mark":{"type":"line","interpolate":"step-after"},"encoding":{"x":{"field":"t","type":"quantitative","scale":{"domain":[-4.65,97.65]},"axis":{"title":null,"tickCount":50,"values":[0,12.5,25,37.5,50,62.5,75,87.5],"labelOverlap":false,"labelExpr":"round(datum.value/12.5) % 2 ? '' : datum.label","tickOpacity":{"condition":{"test":"round(datum.value/12.5) % 2","value":0},"value":1}}},"y":{"field":"s","type":"quantitative","scale":{"domain":[-0.05,1.05]},"axis":{"title":null,"tickCount":50,"values":[0,0.125,0.25,0.375,0.5,0.625,0.75,0.875,1],"labels":false,"ticks":false}},"color":{"field":"g","type":"nominal","scale":{"domain":["Low","High"],"range":["#4a6bd0","#ff4a4a"]}}}},{"transform":[{"filter":"datum.c"}],"mark":{"type":"point","shape":"M-1,0H1M0,-1V1","size":10,"filled":false,"color":"#6e6e6e","strokeWidth":0.6,"opacity":1},"encoding":{"x":{"field":"t","type":"quantitative"},"y":{"field":"s","type":"quantitative"}}},{"data":{"values":[{"lab":"Log-rank P = .519"}]},"mark":{"type":"text","style":"lr"},"encoding":{"text":{"field":"lab"},"x":{"datum":62.5},"y":{"datum":1.017}}}]},
{"width":84,"height":88,"data":{"name":"kD4"},"layer":[{"mark":{"type":"line","interpolate":"step-after"},"encoding":{"x":{"field":"t","type":"quantitative","scale":{"domain":[-4.65,97.65]},"axis":{"title":null,"tickCount":50,"values":[0,12.5,25,37.5,50,62.5,75,87.5],"labelOverlap":false,"labelExpr":"round(datum.value/12.5) % 2 ? '' : datum.label","tickOpacity":{"condition":{"test":"round(datum.value/12.5) % 2","value":0},"value":1}}},"y":{"field":"s","type":"quantitative","scale":{"domain":[-0.05,1.05]},"axis":{"title":null,"tickCount":50,"values":[0,0.125,0.25,0.375,0.5,0.625,0.75,0.875,1],"labels":false,"ticks":false}},"color":{"field":"g","type":"nominal","scale":{"domain":["Low","High"],"range":["#4a6bd0","#ff4a4a"]}}}},{"transform":[{"filter":"datum.c"}],"mark":{"type":"point","shape":"M-1,0H1M0,-1V1","size":10,"filled":false,"color":"#6e6e6e","strokeWidth":0.6,"opacity":1},"encoding":{"x":{"field":"t","type":"quantitative"},"y":{"field":"s","type":"quantitative"}}},{"data":{"values":[{"lab":"Log-rank P = .865"}]},"mark":{"type":"text","style":"lr"},"encoding":{"text":{"field":"lab"},"x":{"datum":61.5},"y":{"datum":1.017}}}]},
{"width":84,"height":88,"data":{"name":"kDM"},"layer":[{"mark":{"type":"line","interpolate":"step-after"},"encoding":{"x":{"field":"t","type":"quantitative","scale":{"domain":[-4.65,97.65]},"axis":{"title":"Time to follow−up (mo)","tickCount":50,"values":[0,12.5,25,37.5,50,62.5,75,87.5],"titlePadding":3,"titleX":55,"labelOverlap":false,"labelExpr":"round(datum.value/12.5) % 2 ? '' : datum.label","tickOpacity":{"condition":{"test":"round(datum.value/12.5) % 2","value":0},"value":1}}},"y":{"field":"s","type":"quantitative","scale":{"domain":[-0.05,1.05]},"axis":{"title":null,"tickCount":50,"values":[0,0.125,0.25,0.375,0.5,0.625,0.75,0.875,1],"labels":false,"ticks":false}},"color":{"field":"g","type":"nominal","scale":{"domain":["Low","High"],"range":["#4a6bd0","#ff4a4a"]}}}},{"transform":[{"filter":"datum.c"}],"mark":{"type":"point","shape":"M-1,0H1M0,-1V1","size":10,"filled":false,"color":"#6e6e6e","strokeWidth":0.6,"opacity":1},"encoding":{"x":{"field":"t","type":"quantitative"},"y":{"field":"s","type":"quantitative"}}},{"data":{"values":[{"lab":"Log-rank P = .225"}]},"mark":{"type":"text","style":"lr"},"encoding":{"text":{"field":"lab"},"x":{"datum":61.5},"y":{"datum":1.017}}}]},
{"width":84,"height":88,"data":{"name":"kDN"},"layer":[{"mark":{"type":"line","interpolate":"step-after"},"encoding":{"x":{"field":"t","type":"quantitative","scale":{"domain":[-4.65,97.65]},"axis":{"title":null,"tickCount":50,"values":[0,12.5,25,37.5,50,62.5,75,87.5],"labelOverlap":false,"labelExpr":"round(datum.value/12.5) % 2 ? '' : datum.label","tickOpacity":{"condition":{"test":"round(datum.value/12.5) % 2","value":0},"value":1}}},"y":{"field":"s","type":"quantitative","scale":{"domain":[-0.05,1.05]},"axis":{"title":null,"tickCount":50,"values":[0,0.125,0.25,0.375,0.5,0.625,0.75,0.875,1],"labels":false,"ticks":false}},"color":{"field":"g","type":"nominal","scale":{"domain":["Low","High"],"range":["#4a6bd0","#ff4a4a"]}}}},{"transform":[{"filter":"datum.c"}],"mark":{"type":"point","shape":"M-1,0H1M0,-1V1","size":10,"filled":false,"color":"#6e6e6e","strokeWidth":0.6,"opacity":1},"encoding":{"x":{"field":"t","type":"quantitative"},"y":{"field":"s","type":"quantitative"}}},{"data":{"values":[{"lab":"Log-rank P = .001"}]},"mark":{"type":"text","style":"lr"},"encoding":{"text":{"field":"lab"},"x":{"datum":62.5},"y":{"datum":1.017}}}]},
{"width":84,"height":88,"data":{"name":"kDD"},"layer":[{"mark":{"type":"line","interpolate":"step-after"},"encoding":{"x":{"field":"t","type":"quantitative","scale":{"domain":[-4.65,97.65]},"axis":{"title":null,"tickCount":50,"values":[0,12.5,25,37.5,50,62.5,75,87.5],"labelOverlap":false,"labelExpr":"round(datum.value/12.5) % 2 ? '' : datum.label","tickOpacity":{"condition":{"test":"round(datum.value/12.5) % 2","value":0},"value":1}}},"y":{"field":"s","type":"quantitative","scale":{"domain":[-0.05,1.05]},"axis":{"title":null,"tickCount":50,"values":[0,0.125,0.25,0.375,0.5,0.625,0.75,0.875,1],"labels":false,"ticks":false}},"color":{"field":"g","type":"nominal","scale":{"domain":["Low","High"],"range":["#4a6bd0","#ff4a4a"]}}}},{"transform":[{"filter":"datum.c"}],"mark":{"type":"point","shape":"M-1,0H1M0,-1V1","size":10,"filled":false,"color":"#6e6e6e","strokeWidth":0.6,"opacity":1},"encoding":{"x":{"field":"t","type":"quantitative"},"y":{"field":"s","type":"quantitative"}}},{"data":{"values":[{"lab":"Log-rank P = .164"}]},"mark":{"type":"text","style":"lr"},"encoding":{"text":{"field":"lab"},"x":{"datum":64},"y":{"datum":1.017}}}]},
{"width":84,"height":88,"data":{"name":"kDT"},"layer":[{"mark":{"type":"line","interpolate":"step-after"},"encoding":{"x":{"field":"t","type":"quantitative","scale":{"domain":[-4.65,97.65]},"axis":{"title":null,"tickCount":50,"values":[0,12.5,25,37.5,50,62.5,75,87.5],"labelOverlap":false,"labelExpr":"round(datum.value/12.5) % 2 ? '' : datum.label","tickOpacity":{"condition":{"test":"round(datum.value/12.5) % 2","value":0},"value":1}}},"y":{"field":"s","type":"quantitative","scale":{"domain":[-0.05,1.05]},"axis":{"title":null,"tickCount":50,"values":[0,0.125,0.25,0.375,0.5,0.625,0.75,0.875,1],"labels":false,"ticks":false}},"color":{"field":"g","type":"nominal","scale":{"domain":["Low","High"],"range":["#4a6bd0","#ff4a4a"]}}}},{"transform":[{"filter":"datum.c"}],"mark":{"type":"point","shape":"M-1,0H1M0,-1V1","size":10,"filled":false,"color":"#6e6e6e","strokeWidth":0.6,"opacity":1},"encoding":{"x":{"field":"t","type":"quantitative"},"y":{"field":"s","type":"quantitative"}}},{"data":{"values":[{"lab":"Log-rank P = .098"}]},"mark":{"type":"text","style":"lr"},"encoding":{"text":{"field":"lab"},"x":{"datum":62},"y":{"datum":1.017}}}]},
{"width":7,"height":88,"view":{"fill":"#d9d9d9","stroke":null},"data":{"values":[{"lab":"MESO"}]},"mark":{"type":"text","style":"strip","fontSize":5,"angle":90},"encoding":{"text":{"field":"lab"}}}
]}
]
}
